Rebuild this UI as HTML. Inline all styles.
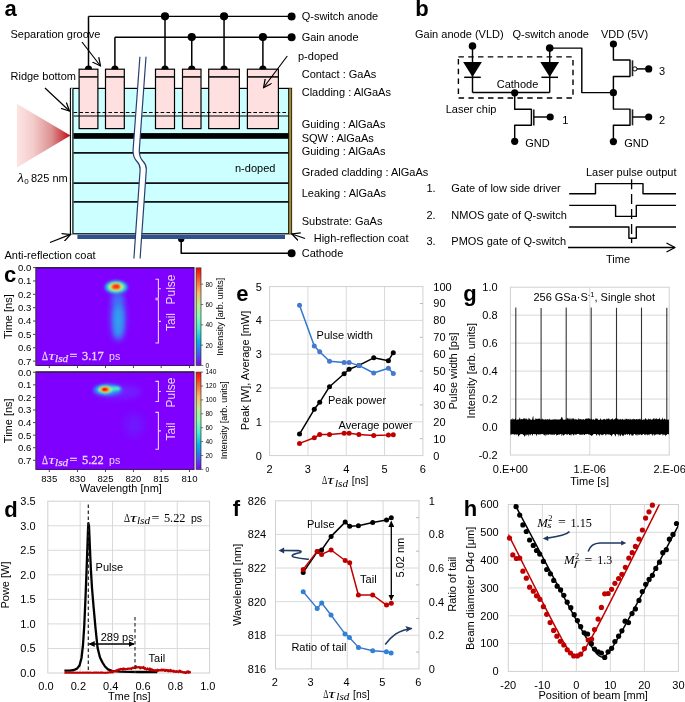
<!DOCTYPE html>
<html><head><meta charset="utf-8"><style>
html,body{margin:0;padding:0;background:#fff;}
body{width:685px;height:702px;overflow:hidden;}
svg{display:block;will-change:transform;}
</style></head><body>
<svg width="685" height="702" viewBox="0 0 685 702">
<rect width="685" height="702" fill="#fff"/>
<defs>
<linearGradient id="beam" x1="0" x2="1" y1="0" y2="0">
 <stop offset="0" stop-color="#fde4e4"/>
 <stop offset="0.3" stop-color="#f4cccc"/>
 <stop offset="0.65" stop-color="#dc9090"/>
 <stop offset="1" stop-color="#c00a14"/>
</linearGradient>
<linearGradient id="cbar" x1="0" x2="0" y1="1" y2="0">
 <stop offset="0" stop-color="#8000ff"/>
 <stop offset="0.125" stop-color="#3f5efb"/>
 <stop offset="0.25" stop-color="#00b4eb"/>
 <stop offset="0.375" stop-color="#40eccf"/>
 <stop offset="0.5" stop-color="#80ffb4"/>
 <stop offset="0.625" stop-color="#c0eb8d"/>
 <stop offset="0.75" stop-color="#ffb462"/>
 <stop offset="0.875" stop-color="#ff5e31"/>
 <stop offset="1" stop-color="#ff0000"/>
</linearGradient>
<filter id="b1" x="-50%" y="-50%" width="200%" height="200%"><feGaussianBlur stdDeviation="1.6"/></filter>
<filter id="b2" x="-50%" y="-50%" width="200%" height="200%"><feGaussianBlur stdDeviation="3"/></filter>
<filter id="b3" x="-50%" y="-50%" width="200%" height="200%"><feGaussianBlur stdDeviation="1"/></filter>
<filter id="b5" x="-50%" y="-50%" width="200%" height="200%"><feGaussianBlur stdDeviation="5"/></filter>
<marker id="ah" viewBox="0 0 10 10" refX="9" refY="5" markerWidth="6" markerHeight="6" orient="auto-start-reverse" markerUnits="userSpaceOnUse"><path d="M0,0 L10,5 L0,10 z" fill="#000"/></marker>
<marker id="ahn" viewBox="0 0 10 10" refX="9" refY="5" markerWidth="7" markerHeight="7" orient="auto-start-reverse" markerUnits="userSpaceOnUse"><path d="M0,0.5 L10,5 L0,9.5 L2.5,5 z" fill="#1f3864"/></marker>
<marker id="ao" viewBox="0 0 10 10" refX="9" refY="5" markerWidth="9" markerHeight="9" orient="auto" markerUnits="userSpaceOnUse"><path d="M0,0.5 L9,5 L0,9.5" fill="none" stroke="#000" stroke-width="1.4"/></marker>
</defs>
<text x="4.5" y="16.3" font-family="Liberation Sans" font-size="22" font-weight="bold" fill="#000">a</text>
<polygon points="16.9,103.8 16.9,167.4 70.5,135.5" fill="url(#beam)"/>
<rect x="71" y="88.4" width="220.5" height="145.4" fill="#ccffff" stroke="#000" stroke-width="1.2"/>
<rect x="288.8" y="88.4" width="2.6" height="145.4" fill="#a38a3a" stroke="none"/>
<line x1="288.60" y1="88.40" x2="288.60" y2="233.80" stroke="#000" stroke-width="0.9" />
<rect x="70.4" y="88.4" width="2.6" height="145.4" fill="#fff"/>
<line x1="70.40" y1="88.00" x2="70.40" y2="234.20" stroke="#000" stroke-width="1.1" />
<line x1="72.90" y1="88.40" x2="72.90" y2="233.80" stroke="#1a2a2a" stroke-width="1.4" />
<rect x="73.5" y="133.1" width="215.1" height="5.7" fill="#000"/>
<line x1="73.50" y1="152.90" x2="288.60" y2="152.90" stroke="#111" stroke-width="1.6" />
<line x1="73.50" y1="183.10" x2="288.60" y2="183.10" stroke="#111" stroke-width="1.6" />
<line x1="73.50" y1="201.90" x2="288.60" y2="201.90" stroke="#111" stroke-width="1.6" />
<rect x="77.4" y="234.8" width="207.6" height="4.2" fill="#2f528f"/>
<rect x="79.1" y="69.2" width="18.80" height="59.4" fill="#ffe0e0" stroke="#000" stroke-width="1.2"/>
<line x1="79.10" y1="76.90" x2="97.90" y2="76.90" stroke="#1a1a1a" stroke-width="1.7" />
<rect x="105.5" y="69.2" width="18.80" height="59.4" fill="#ffe0e0" stroke="#000" stroke-width="1.2"/>
<line x1="105.50" y1="76.90" x2="124.30" y2="76.90" stroke="#1a1a1a" stroke-width="1.7" />
<rect x="155.5" y="69.2" width="19.00" height="59.4" fill="#ffe0e0" stroke="#000" stroke-width="1.2"/>
<line x1="155.50" y1="76.90" x2="174.50" y2="76.90" stroke="#1a1a1a" stroke-width="1.7" />
<rect x="182.5" y="69.2" width="18.50" height="59.4" fill="#ffe0e0" stroke="#000" stroke-width="1.2"/>
<line x1="182.50" y1="76.90" x2="201.00" y2="76.90" stroke="#1a1a1a" stroke-width="1.7" />
<rect x="208.7" y="69.2" width="30.70" height="59.4" fill="#ffe0e0" stroke="#000" stroke-width="1.2"/>
<line x1="208.70" y1="76.90" x2="239.40" y2="76.90" stroke="#1a1a1a" stroke-width="1.7" />
<rect x="247.4" y="69.2" width="31.00" height="59.4" fill="#ffe0e0" stroke="#000" stroke-width="1.2"/>
<line x1="247.40" y1="76.90" x2="278.40" y2="76.90" stroke="#1a1a1a" stroke-width="1.7" />
<line x1="73.60" y1="112.50" x2="288.60" y2="112.50" stroke="#000" stroke-width="1.1" stroke-dasharray="3.6,2.2"/>
<line x1="73.60" y1="116.00" x2="288.60" y2="116.00" stroke="#000" stroke-width="1.1" />
<line x1="88.50" y1="16.40" x2="291.50" y2="16.40" stroke="#000" stroke-width="1.4" />
<line x1="114.90" y1="37.20" x2="291.50" y2="37.20" stroke="#000" stroke-width="1.4" />
<line x1="88.50" y1="16.40" x2="88.50" y2="69.20" stroke="#000" stroke-width="1.5" />
<line x1="165.00" y1="16.40" x2="165.00" y2="69.20" stroke="#000" stroke-width="1.5" />
<line x1="224.05" y1="16.40" x2="224.05" y2="69.20" stroke="#000" stroke-width="1.5" />
<line x1="114.90" y1="37.20" x2="114.90" y2="69.20" stroke="#000" stroke-width="1.5" />
<line x1="191.75" y1="37.20" x2="191.75" y2="69.20" stroke="#000" stroke-width="1.5" />
<line x1="262.90" y1="37.20" x2="262.90" y2="69.20" stroke="#000" stroke-width="1.5" />
<circle cx="165.00" cy="16.30" r="4.1" fill="#000"/>
<circle cx="224.05" cy="16.30" r="4.1" fill="#000"/>
<circle cx="191.75" cy="37.10" r="4.1" fill="#000"/>
<circle cx="262.90" cy="37.10" r="4.1" fill="#000"/>
<circle cx="291.60" cy="16.50" r="4.0" fill="#000"/>
<circle cx="291.60" cy="37.20" r="4.0" fill="#000"/>
<path d="M84.90,69.2 A3.6,3.6 0 0 1 92.10,69.2 z" fill="#000"/>
<path d="M111.30,69.2 A3.6,3.6 0 0 1 118.50,69.2 z" fill="#000"/>
<path d="M161.40,69.2 A3.6,3.6 0 0 1 168.60,69.2 z" fill="#000"/>
<path d="M188.15,69.2 A3.6,3.6 0 0 1 195.35,69.2 z" fill="#000"/>
<path d="M220.45,69.2 A3.6,3.6 0 0 1 227.65,69.2 z" fill="#000"/>
<path d="M259.30,69.2 A3.6,3.6 0 0 1 266.50,69.2 z" fill="#000"/>
<path d="M178,239 A3.2,3.2 0 0 0 184.4,239 z" fill="#000"/>
<polyline points="181.20,239.00 181.20,253.20 291.50,253.20" fill="none" stroke="#000" stroke-width="1.5" stroke-linejoin="round" />
<circle cx="291.60" cy="253.20" r="4.0" fill="#000"/>
<path d="M139.9,56.8 L133.1,150 C132.8,156 134.5,159 137,161.5 C139.5,164 140.3,166 140.1,170 L133.9,258.5 L140.1,258.5 L146.3,170 C146.5,166 145.7,164 143.2,161.5 C140.7,159 139.0,156 139.3,150 L146.0,56.8 z" fill="#fff"/>
<path d="M139.9,56.8 L133.1,150 C132.8,156 134.5,159 137,161.5 C139.5,164 140.3,166 140.1,170 L133.9,258.5" fill="none" stroke="#2b3f6e" stroke-width="1.2"/>
<path d="M146.0,56.8 L139.3,150 C139.0,156 140.7,159 143.2,161.5 C145.7,164 146.5,166 146.3,170 L140.1,258.5" fill="none" stroke="#2b3f6e" stroke-width="1.2"/>
<line x1="82.00" y1="42.00" x2="100.50" y2="66.00" stroke="#000" stroke-width="1.2" marker-end="url(#ao)"/>
<line x1="45.00" y1="88.00" x2="69.50" y2="111.00" stroke="#000" stroke-width="1.2" marker-end="url(#ao)"/>
<line x1="287.30" y1="56.00" x2="263.60" y2="87.50" stroke="#000" stroke-width="1.2" marker-end="url(#ao)"/>
<line x1="50.00" y1="242.50" x2="70.50" y2="234.40" stroke="#000" stroke-width="1.2" marker-end="url(#ao)"/>
<line x1="305.00" y1="238.50" x2="291.80" y2="234.00" stroke="#000" stroke-width="1.2" marker-end="url(#ao)"/>
<text x="10.50" y="38.11" font-family="Liberation Sans" font-size="11" text-anchor="start" fill="#000" font-weight="normal" font-style="normal" >Separation groove</text>
<text x="10.50" y="79.91" font-family="Liberation Sans" font-size="11" text-anchor="start" fill="#000" font-weight="normal" font-style="normal" >Ridge bottom</text>
<text x="301.70" y="20.41" font-family="Liberation Sans" font-size="11" text-anchor="start" fill="#000" font-weight="normal" font-style="normal" >Q-switch anode</text>
<text x="301.70" y="41.41" font-family="Liberation Sans" font-size="11" text-anchor="start" fill="#000" font-weight="normal" font-style="normal" >Gain anode</text>
<text x="298.00" y="59.91" font-family="Liberation Sans" font-size="11" text-anchor="start" fill="#000" font-weight="normal" font-style="normal" >p-doped</text>
<text x="301.70" y="77.91" font-family="Liberation Sans" font-size="11" text-anchor="start" fill="#000" font-weight="normal" font-style="normal" >Contact : GaAs</text>
<text x="301.70" y="96.41" font-family="Liberation Sans" font-size="11" text-anchor="start" fill="#000" font-weight="normal" font-style="normal" >Cladding : AlGaAs</text>
<text x="301.70" y="127.91" font-family="Liberation Sans" font-size="11" text-anchor="start" fill="#000" font-weight="normal" font-style="normal" >Guiding : AlGaAs</text>
<text x="301.70" y="141.91" font-family="Liberation Sans" font-size="11" text-anchor="start" fill="#000" font-weight="normal" font-style="normal" >SQW : AlGaAs</text>
<text x="301.70" y="154.91" font-family="Liberation Sans" font-size="11" text-anchor="start" fill="#000" font-weight="normal" font-style="normal" >Guiding : AlGaAs</text>
<text x="301.70" y="176.41" font-family="Liberation Sans" font-size="11" text-anchor="start" fill="#000" font-weight="normal" font-style="normal" >Graded cladding : AlGaAs</text>
<text x="301.70" y="196.91" font-family="Liberation Sans" font-size="11" text-anchor="start" fill="#000" font-weight="normal" font-style="normal" >Leaking : AlGaAs</text>
<text x="301.70" y="224.91" font-family="Liberation Sans" font-size="11" text-anchor="start" fill="#000" font-weight="normal" font-style="normal" >Substrate: GaAs</text>
<text x="313.70" y="241.91" font-family="Liberation Sans" font-size="11" text-anchor="start" fill="#000" font-weight="normal" font-style="normal" >High-reflection coat</text>
<text x="301.70" y="257.10" font-family="Liberation Sans" font-size="11" text-anchor="start" fill="#000" font-weight="normal" font-style="normal" >Cathode</text>
<text x="235.00" y="171.91" font-family="Liberation Sans" font-size="11" text-anchor="start" fill="#000" font-weight="normal" font-style="normal" >n-doped</text>
<text x="4.50" y="258.90" font-family="Liberation Sans" font-size="11" text-anchor="start" fill="#000" font-weight="normal" font-style="normal" >Anti-reflection coat</text>
<text x="17.6" y="181.8" font-family="Liberation Serif" font-size="12.5" font-style="italic" textLength="6.4" lengthAdjust="spacingAndGlyphs">λ</text>
<text x="24.2" y="184.4" font-family="Liberation Sans" font-size="8">0</text>
<text x="31.0" y="182.0" font-family="Liberation Sans" font-size="11">825 nm</text>
<text x="415.3" y="15.9" font-family="Liberation Sans" font-size="22" font-weight="bold" fill="#000">b</text>
<text x="415.00" y="37.91" font-family="Liberation Sans" font-size="11" text-anchor="start" fill="#000" font-weight="normal" font-style="normal" >Gain anode (VLD)</text>
<text x="512.50" y="38.20" font-family="Liberation Sans" font-size="11" text-anchor="start" fill="#000" font-weight="normal" font-style="normal" >Q-switch anode</text>
<text x="601.00" y="38.20" font-family="Liberation Sans" font-size="11" text-anchor="start" fill="#000" font-weight="normal" font-style="normal" >VDD (5V)</text>
<rect x="458.4" y="56.9" width="114.6" height="41.1" fill="none" stroke="#000" stroke-width="1.4" stroke-dasharray="5.5,4.3"/>
<line x1="472.50" y1="46.00" x2="472.50" y2="92.50" stroke="#000" stroke-width="1.45" />
<polygon points="463.1,62.0 481.9,62.0 472.5,77.0" fill="#000"/>
<line x1="464.20" y1="77.30" x2="480.80" y2="77.30" stroke="#000" stroke-width="1.5" />
<line x1="549.70" y1="48.10" x2="549.70" y2="92.50" stroke="#000" stroke-width="1.45" />
<polygon points="540.3,62.0 559.1,62.0 549.7,77.0" fill="#000"/>
<line x1="541.40" y1="77.30" x2="558.00" y2="77.30" stroke="#000" stroke-width="1.5" />
<circle cx="472.50" cy="46.00" r="3.8" fill="#000"/>
<circle cx="549.70" cy="48.10" r="3.8" fill="#000"/>
<line x1="472.50" y1="92.50" x2="549.70" y2="92.50" stroke="#000" stroke-width="1.45" />
<text x="496.70" y="87.61" font-family="Liberation Sans" font-size="11" text-anchor="start" fill="#000" font-weight="normal" font-style="normal" >Cathode</text>
<text x="445.70" y="112.91" font-family="Liberation Sans" font-size="11" text-anchor="start" fill="#000" font-weight="normal" font-style="normal" >Laser chip</text>
<circle cx="514.70" cy="92.80" r="3.6" fill="#000"/>
<polyline points="549.70,48.10 581.80,48.10 581.80,92.60 613.40,92.60" fill="none" stroke="#000" stroke-width="1.45" stroke-linejoin="round" />
<polyline points="514.70,92.80 514.70,109.20 531.40,109.20 531.40,125.30 514.70,125.30 514.70,141.30" fill="none" stroke="#000" stroke-width="1.45" stroke-linejoin="round" />
<line x1="533.80" y1="109.40" x2="533.80" y2="125.60" stroke="#222" stroke-width="1.6" />
<line x1="533.80" y1="117.00" x2="550.00" y2="117.00" stroke="#000" stroke-width="1.45" />
<circle cx="550.20" cy="117.00" r="3.6" fill="#000"/>
<text x="562.30" y="123.61" font-family="Liberation Sans" font-size="11" text-anchor="start" fill="#000" font-weight="normal" font-style="normal" >1</text>
<circle cx="514.70" cy="141.30" r="3.6" fill="#000"/>
<text x="525.30" y="146.91" font-family="Liberation Sans" font-size="11" text-anchor="start" fill="#000" font-weight="normal" font-style="normal" >GND</text>
<polyline points="613.40,44.00 613.40,59.90 630.00,59.90 630.00,76.50 613.40,76.50 613.40,109.10 630.00,109.10 630.00,125.20 613.40,125.20 613.40,141.60" fill="none" stroke="#000" stroke-width="1.45" stroke-linejoin="round" />
<line x1="632.50" y1="60.30" x2="632.50" y2="76.20" stroke="#222" stroke-width="1.6" />
<line x1="632.50" y1="109.40" x2="632.50" y2="125.30" stroke="#222" stroke-width="1.6" />
<circle cx="634.9" cy="68.9" r="2.1" fill="#fff" stroke="#000" stroke-width="1.0"/>
<line x1="637.00" y1="68.90" x2="648.70" y2="68.90" stroke="#000" stroke-width="1.45" />
<line x1="632.50" y1="117.00" x2="648.70" y2="117.00" stroke="#000" stroke-width="1.45" />
<circle cx="613.40" cy="44.00" r="3.6" fill="#000"/>
<circle cx="613.40" cy="92.70" r="3.6" fill="#000"/>
<circle cx="613.40" cy="141.60" r="3.6" fill="#000"/>
<circle cx="648.70" cy="68.90" r="3.6" fill="#000"/>
<circle cx="648.70" cy="117.00" r="3.6" fill="#000"/>
<text x="659.00" y="74.61" font-family="Liberation Sans" font-size="11" text-anchor="start" fill="#000" font-weight="normal" font-style="normal" >3</text>
<text x="659.00" y="123.81" font-family="Liberation Sans" font-size="11" text-anchor="start" fill="#000" font-weight="normal" font-style="normal" >2</text>
<text x="624.30" y="146.81" font-family="Liberation Sans" font-size="11" text-anchor="start" fill="#000" font-weight="normal" font-style="normal" >GND</text>
<text x="426.50" y="192.41" font-family="Liberation Sans" font-size="11" text-anchor="start" fill="#000" font-weight="normal" font-style="normal" >1.</text>
<text x="426.50" y="218.50" font-family="Liberation Sans" font-size="11" text-anchor="start" fill="#000" font-weight="normal" font-style="normal" >2.</text>
<text x="426.50" y="244.91" font-family="Liberation Sans" font-size="11" text-anchor="start" fill="#000" font-weight="normal" font-style="normal" >3.</text>
<text x="451.30" y="192.41" font-family="Liberation Sans" font-size="11" text-anchor="start" fill="#000" font-weight="normal" font-style="normal" >Gate of low side driver</text>
<text x="451.30" y="218.50" font-family="Liberation Sans" font-size="11" text-anchor="start" fill="#000" font-weight="normal" font-style="normal" >NMOS gate of Q-switch</text>
<text x="451.30" y="244.91" font-family="Liberation Sans" font-size="11" text-anchor="start" fill="#000" font-weight="normal" font-style="normal" >PMOS gate of Q-switch</text>
<text x="586.00" y="175.91" font-family="Liberation Sans" font-size="11" text-anchor="start" fill="#000" font-weight="normal" font-style="normal" >Laser pulse output</text>
<polyline points="569.20,193.70 595.50,193.70 595.50,183.60 643.00,183.60 643.00,193.70 676.00,193.70" fill="none" stroke="#000" stroke-width="1.4" stroke-linejoin="round" />
<polyline points="569.20,205.40 615.60,205.40 615.60,216.40 636.30,216.40 636.30,205.40 676.00,205.40" fill="none" stroke="#000" stroke-width="1.4" stroke-linejoin="round" />
<polyline points="569.20,227.00 628.90,227.00 628.90,238.20 636.30,238.20 636.30,227.00 676.00,227.00" fill="none" stroke="#000" stroke-width="1.4" stroke-linejoin="round" />
<line x1="631.60" y1="179.20" x2="631.60" y2="243.00" stroke="#000" stroke-width="1.3" stroke-dasharray="10,4.9"/>
<line x1="568.00" y1="247.50" x2="674.50" y2="247.50" stroke="#000" stroke-width="1.4" />
<polyline points="666.50,243.00 675.00,247.50 666.50,252.00" fill="none" stroke="#000" stroke-width="1.4" stroke-linejoin="round" />
<text x="606.00" y="262.90" font-family="Liberation Sans" font-size="11" text-anchor="start" fill="#000" font-weight="normal" font-style="normal" >Time</text>
<text x="4.0" y="281.6" font-family="Liberation Sans" font-size="22" font-weight="bold" fill="#000">c</text>
<rect x="35.9" y="267.9" width="158.3" height="97.60" fill="#7f00ff"/>
<ellipse cx="118.2" cy="318" rx="6.6" ry="22.5" fill="#3090f0" filter="url(#b2)"/>
<ellipse cx="118.6" cy="322" rx="3.6" ry="15" fill="#30a8f0" filter="url(#b2)" opacity="0.85"/>
<ellipse cx="117.5" cy="298" rx="6" ry="6" fill="#4070f8" filter="url(#b2)" opacity="0.9"/>
<ellipse cx="116.3" cy="287.2" rx="11.5" ry="6.6" fill="#1aa8f0" filter="url(#b1)"/>
<ellipse cx="116.1" cy="287.0" rx="8.6" ry="4.9" fill="#80f8a8" filter="url(#b1)"/>
<ellipse cx="115.9" cy="286.9" rx="6.4" ry="3.5" fill="#e0f068" filter="url(#b3)"/>
<ellipse cx="115.9" cy="286.8" rx="4.4" ry="2.5" fill="#ff4a1a" filter="url(#b3)"/>
<ellipse cx="116.6" cy="286.4" rx="2.2" ry="1.4" fill="#ff2000" filter="url(#b3)"/>
<rect x="35.9" y="267.90" width="158.3" height="97.60" fill="none" stroke="#2a0a55" stroke-width="0.9"/>
<line x1="35.50" y1="267.60" x2="194.30" y2="267.60" stroke="#222" stroke-width="1.0" />
<line x1="35.70" y1="267.90" x2="35.70" y2="365.50" stroke="#666" stroke-width="0.9" />
<rect x="194.6" y="267.50" width="1.2" height="98.00" fill="#d8d8d8"/>
<rect x="196.2" y="267.90" width="4.8" height="97.60" fill="url(#cbar)" stroke="#333" stroke-width="0.7"/>
<line x1="200.80" y1="365.50" x2="203.20" y2="365.50" stroke="#444" stroke-width="0.7" />
<text x="205.40" y="367.84" font-family="Liberation Sans" font-size="6.6" text-anchor="start" fill="#000" font-weight="normal" font-style="normal" >0</text>
<line x1="200.80" y1="345.17" x2="203.20" y2="345.17" stroke="#444" stroke-width="0.7" />
<text x="205.40" y="347.51" font-family="Liberation Sans" font-size="6.6" text-anchor="start" fill="#000" font-weight="normal" font-style="normal" >20</text>
<line x1="200.80" y1="324.83" x2="203.20" y2="324.83" stroke="#444" stroke-width="0.7" />
<text x="205.40" y="327.18" font-family="Liberation Sans" font-size="6.6" text-anchor="start" fill="#000" font-weight="normal" font-style="normal" >40</text>
<line x1="200.80" y1="304.50" x2="203.20" y2="304.50" stroke="#444" stroke-width="0.7" />
<text x="205.40" y="306.84" font-family="Liberation Sans" font-size="6.6" text-anchor="start" fill="#000" font-weight="normal" font-style="normal" >60</text>
<line x1="200.80" y1="284.17" x2="203.20" y2="284.17" stroke="#444" stroke-width="0.7" />
<text x="205.40" y="286.51" font-family="Liberation Sans" font-size="6.6" text-anchor="start" fill="#000" font-weight="normal" font-style="normal" >80</text>
<line x1="33.00" y1="267.60" x2="35.70" y2="267.60" stroke="#333" stroke-width="0.9" />
<text x="31.30" y="271.01" font-family="Liberation Sans" font-size="9.6" text-anchor="end" fill="#000" font-weight="normal" font-style="normal" >0.0</text>
<line x1="33.00" y1="280.96" x2="35.70" y2="280.96" stroke="#333" stroke-width="0.9" />
<text x="31.30" y="284.37" font-family="Liberation Sans" font-size="9.6" text-anchor="end" fill="#000" font-weight="normal" font-style="normal" >0.1</text>
<line x1="33.00" y1="294.32" x2="35.70" y2="294.32" stroke="#333" stroke-width="0.9" />
<text x="31.30" y="297.73" font-family="Liberation Sans" font-size="9.6" text-anchor="end" fill="#000" font-weight="normal" font-style="normal" >0.2</text>
<line x1="33.00" y1="307.68" x2="35.70" y2="307.68" stroke="#333" stroke-width="0.9" />
<text x="31.30" y="311.09" font-family="Liberation Sans" font-size="9.6" text-anchor="end" fill="#000" font-weight="normal" font-style="normal" >0.3</text>
<line x1="33.00" y1="321.04" x2="35.70" y2="321.04" stroke="#333" stroke-width="0.9" />
<text x="31.30" y="324.45" font-family="Liberation Sans" font-size="9.6" text-anchor="end" fill="#000" font-weight="normal" font-style="normal" >0.4</text>
<line x1="33.00" y1="334.40" x2="35.70" y2="334.40" stroke="#333" stroke-width="0.9" />
<text x="31.30" y="337.81" font-family="Liberation Sans" font-size="9.6" text-anchor="end" fill="#000" font-weight="normal" font-style="normal" >0.5</text>
<line x1="33.00" y1="347.76" x2="35.70" y2="347.76" stroke="#333" stroke-width="0.9" />
<text x="31.30" y="351.17" font-family="Liberation Sans" font-size="9.6" text-anchor="end" fill="#000" font-weight="normal" font-style="normal" >0.6</text>
<line x1="33.00" y1="361.12" x2="35.70" y2="361.12" stroke="#333" stroke-width="0.9" />
<text x="31.30" y="364.53" font-family="Liberation Sans" font-size="9.6" text-anchor="end" fill="#000" font-weight="normal" font-style="normal" >0.7</text>
<line x1="49.30" y1="365.50" x2="49.30" y2="368.10" stroke="#333" stroke-width="0.9" />
<line x1="77.50" y1="365.50" x2="77.50" y2="368.10" stroke="#333" stroke-width="0.9" />
<line x1="105.50" y1="365.50" x2="105.50" y2="368.10" stroke="#333" stroke-width="0.9" />
<line x1="133.40" y1="365.50" x2="133.40" y2="368.10" stroke="#333" stroke-width="0.9" />
<line x1="161.20" y1="365.50" x2="161.20" y2="368.10" stroke="#333" stroke-width="0.9" />
<line x1="189.50" y1="365.50" x2="189.50" y2="368.10" stroke="#333" stroke-width="0.9" />
<text transform="translate(11.61,316.70) rotate(-90)" font-family="Liberation Sans" font-size="11" text-anchor="middle" fill="#000" font-style="normal">Time [ns]</text>
<text transform="translate(223.19,316.70) rotate(-90)" font-family="Liberation Sans" font-size="9" text-anchor="middle" fill="#000" font-style="normal">Intensity [arb. units]</text>
<rect x="35.9" y="372.1" width="158.3" height="97.30" fill="#7f00ff"/>
<ellipse cx="134" cy="425" rx="10" ry="12" fill="#6a20ff" filter="url(#b5)" opacity="0.7"/>
<ellipse cx="118" cy="392" rx="24" ry="7" fill="#6a30ff" filter="url(#b2)" opacity="0.6"/>
<ellipse cx="108" cy="390" rx="15" ry="6.2" fill="#4a60ff" filter="url(#b1)" opacity="0.9"/>
<ellipse cx="107" cy="389.8" rx="12" ry="5" fill="#1e9cf0" filter="url(#b1)"/>
<ellipse cx="115.5" cy="388.6" rx="5" ry="2.2" fill="#50e8c8" filter="url(#b3)"/>
<ellipse cx="105.4" cy="389.6" rx="7.8" ry="3.8" fill="#78f4b8" filter="url(#b3)"/>
<ellipse cx="105.2" cy="389.6" rx="5.6" ry="2.8" fill="#f0d060" filter="url(#b3)"/>
<ellipse cx="105.0" cy="389.5" rx="3.6" ry="1.9" fill="#ff3a10" filter="url(#b3)"/>
<ellipse cx="104.8" cy="389.4" rx="2.0" ry="1.2" fill="#ff1000"/>
<rect x="35.9" y="372.10" width="158.3" height="97.30" fill="none" stroke="#2a0a55" stroke-width="0.9"/>
<line x1="35.50" y1="371.80" x2="194.30" y2="371.80" stroke="#222" stroke-width="1.0" />
<line x1="35.70" y1="372.10" x2="35.70" y2="469.40" stroke="#666" stroke-width="0.9" />
<rect x="194.6" y="371.70" width="1.2" height="97.70" fill="#d8d8d8"/>
<rect x="196.2" y="372.10" width="4.8" height="97.30" fill="url(#cbar)" stroke="#333" stroke-width="0.7"/>
<line x1="200.80" y1="469.40" x2="203.20" y2="469.40" stroke="#444" stroke-width="0.7" />
<text x="205.40" y="471.74" font-family="Liberation Sans" font-size="6.6" text-anchor="start" fill="#000" font-weight="normal" font-style="normal" >0</text>
<line x1="200.80" y1="455.50" x2="203.20" y2="455.50" stroke="#444" stroke-width="0.7" />
<text x="205.40" y="457.84" font-family="Liberation Sans" font-size="6.6" text-anchor="start" fill="#000" font-weight="normal" font-style="normal" >20</text>
<line x1="200.80" y1="441.60" x2="203.20" y2="441.60" stroke="#444" stroke-width="0.7" />
<text x="205.40" y="443.94" font-family="Liberation Sans" font-size="6.6" text-anchor="start" fill="#000" font-weight="normal" font-style="normal" >40</text>
<line x1="200.80" y1="427.70" x2="203.20" y2="427.70" stroke="#444" stroke-width="0.7" />
<text x="205.40" y="430.04" font-family="Liberation Sans" font-size="6.6" text-anchor="start" fill="#000" font-weight="normal" font-style="normal" >60</text>
<line x1="200.80" y1="413.80" x2="203.20" y2="413.80" stroke="#444" stroke-width="0.7" />
<text x="205.40" y="416.14" font-family="Liberation Sans" font-size="6.6" text-anchor="start" fill="#000" font-weight="normal" font-style="normal" >80</text>
<line x1="200.80" y1="399.90" x2="203.20" y2="399.90" stroke="#444" stroke-width="0.7" />
<text x="205.40" y="402.24" font-family="Liberation Sans" font-size="6.6" text-anchor="start" fill="#000" font-weight="normal" font-style="normal" >100</text>
<line x1="200.80" y1="386.00" x2="203.20" y2="386.00" stroke="#444" stroke-width="0.7" />
<text x="205.40" y="388.34" font-family="Liberation Sans" font-size="6.6" text-anchor="start" fill="#000" font-weight="normal" font-style="normal" >120</text>
<line x1="200.80" y1="372.10" x2="203.20" y2="372.10" stroke="#444" stroke-width="0.7" />
<text x="205.40" y="374.44" font-family="Liberation Sans" font-size="6.6" text-anchor="start" fill="#000" font-weight="normal" font-style="normal" >140</text>
<line x1="33.00" y1="372.30" x2="35.70" y2="372.30" stroke="#333" stroke-width="0.9" />
<text x="31.30" y="375.71" font-family="Liberation Sans" font-size="9.6" text-anchor="end" fill="#000" font-weight="normal" font-style="normal" >0.0</text>
<line x1="33.00" y1="384.87" x2="35.70" y2="384.87" stroke="#333" stroke-width="0.9" />
<text x="31.30" y="388.28" font-family="Liberation Sans" font-size="9.6" text-anchor="end" fill="#000" font-weight="normal" font-style="normal" >0.1</text>
<line x1="33.00" y1="397.44" x2="35.70" y2="397.44" stroke="#333" stroke-width="0.9" />
<text x="31.30" y="400.85" font-family="Liberation Sans" font-size="9.6" text-anchor="end" fill="#000" font-weight="normal" font-style="normal" >0.2</text>
<line x1="33.00" y1="410.01" x2="35.70" y2="410.01" stroke="#333" stroke-width="0.9" />
<text x="31.30" y="413.42" font-family="Liberation Sans" font-size="9.6" text-anchor="end" fill="#000" font-weight="normal" font-style="normal" >0.3</text>
<line x1="33.00" y1="422.58" x2="35.70" y2="422.58" stroke="#333" stroke-width="0.9" />
<text x="31.30" y="425.99" font-family="Liberation Sans" font-size="9.6" text-anchor="end" fill="#000" font-weight="normal" font-style="normal" >0.4</text>
<line x1="33.00" y1="435.15" x2="35.70" y2="435.15" stroke="#333" stroke-width="0.9" />
<text x="31.30" y="438.56" font-family="Liberation Sans" font-size="9.6" text-anchor="end" fill="#000" font-weight="normal" font-style="normal" >0.5</text>
<line x1="33.00" y1="447.72" x2="35.70" y2="447.72" stroke="#333" stroke-width="0.9" />
<text x="31.30" y="451.13" font-family="Liberation Sans" font-size="9.6" text-anchor="end" fill="#000" font-weight="normal" font-style="normal" >0.6</text>
<line x1="33.00" y1="460.29" x2="35.70" y2="460.29" stroke="#333" stroke-width="0.9" />
<text x="31.30" y="463.70" font-family="Liberation Sans" font-size="9.6" text-anchor="end" fill="#000" font-weight="normal" font-style="normal" >0.7</text>
<line x1="49.30" y1="469.40" x2="49.30" y2="472.00" stroke="#333" stroke-width="0.9" />
<line x1="77.50" y1="469.40" x2="77.50" y2="472.00" stroke="#333" stroke-width="0.9" />
<line x1="105.50" y1="469.40" x2="105.50" y2="472.00" stroke="#333" stroke-width="0.9" />
<line x1="133.40" y1="469.40" x2="133.40" y2="472.00" stroke="#333" stroke-width="0.9" />
<line x1="161.20" y1="469.40" x2="161.20" y2="472.00" stroke="#333" stroke-width="0.9" />
<line x1="189.50" y1="469.40" x2="189.50" y2="472.00" stroke="#333" stroke-width="0.9" />
<text transform="translate(11.61,420.75) rotate(-90)" font-family="Liberation Sans" font-size="11" text-anchor="middle" fill="#000" font-style="normal">Time [ns]</text>
<text transform="translate(226.59,420.25) rotate(-90)" font-family="Liberation Sans" font-size="9" text-anchor="middle" fill="#000" font-style="normal">Intensity [arb. units]</text>
<text x="49.30" y="481.71" font-family="Liberation Sans" font-size="9.6" text-anchor="middle" fill="#000" font-weight="normal" font-style="normal" >835</text>
<text x="77.50" y="481.71" font-family="Liberation Sans" font-size="9.6" text-anchor="middle" fill="#000" font-weight="normal" font-style="normal" >830</text>
<text x="105.50" y="481.71" font-family="Liberation Sans" font-size="9.6" text-anchor="middle" fill="#000" font-weight="normal" font-style="normal" >825</text>
<text x="133.40" y="481.71" font-family="Liberation Sans" font-size="9.6" text-anchor="middle" fill="#000" font-weight="normal" font-style="normal" >820</text>
<text x="161.20" y="481.71" font-family="Liberation Sans" font-size="9.6" text-anchor="middle" fill="#000" font-weight="normal" font-style="normal" >815</text>
<text x="189.50" y="481.71" font-family="Liberation Sans" font-size="9.6" text-anchor="middle" fill="#000" font-weight="normal" font-style="normal" >810</text>
<text x="120.80" y="492.20" font-family="Liberation Sans" font-size="11" text-anchor="middle" fill="#000" font-weight="normal" font-style="normal" >Wavelength [nm]</text>
<path d="M155.4,279.2 L158.4,279.2 L158.4,298.3 L155.4,298.3 M158.4,288.75 L160.9,288.75" fill="none" stroke="#e6d4ff" stroke-width="1.1"/>
<path d="M155.4,299.8 L158.4,299.8 L158.4,343.0 L155.4,343.0 M158.4,321.4 L160.9,321.4" fill="none" stroke="#e6d4ff" stroke-width="1.1"/>
<path d="M155.4,381.4 L158.4,381.4 L158.4,401.5 L155.4,401.5 M158.4,391.45 L160.9,391.45" fill="none" stroke="#e6d4ff" stroke-width="1.1"/>
<path d="M155.4,412.4 L158.4,412.4 L158.4,449.3 L155.4,449.3 M158.4,430.85 L160.9,430.85" fill="none" stroke="#e6d4ff" stroke-width="1.1"/>
<text transform="translate(174.56,289.50) rotate(-90)" font-family="Liberation Sans" font-size="12" text-anchor="middle" fill="#e6d4ff" font-style="normal">Pulse</text>
<text transform="translate(174.56,322.00) rotate(-90)" font-family="Liberation Sans" font-size="12" text-anchor="middle" fill="#e6d4ff" font-style="normal">Tail</text>
<text transform="translate(174.56,392.50) rotate(-90)" font-family="Liberation Sans" font-size="12" text-anchor="middle" fill="#e6d4ff" font-style="normal">Pulse</text>
<text transform="translate(174.56,431.50) rotate(-90)" font-family="Liberation Sans" font-size="12" text-anchor="middle" fill="#e6d4ff" font-style="normal">Tail</text>
<text x="42.00" y="360.10" font-family="Liberation Serif" font-size="13" font-style="normal" fill="#e6d4ff" font-weight="normal" textLength="6.00" lengthAdjust="spacingAndGlyphs" stroke="#e6d4ff" stroke-width="0.3">Δ</text>
<text x="48.20" y="360.10" font-family="Liberation Serif" font-size="13.5" font-style="italic" fill="#e6d4ff" font-weight="normal" textLength="6.90" lengthAdjust="spacingAndGlyphs">τ</text>
<text x="55.10" y="361.80" font-family="Liberation Serif" font-size="10.5" font-style="italic" fill="#e6d4ff" font-weight="normal" textLength="13.10" lengthAdjust="spacingAndGlyphs" stroke="#e6d4ff" stroke-width="0.25">lsd</text>
<text x="69.50" y="360.10" font-family="Liberation Serif" font-size="13" font-style="normal" fill="#e6d4ff" font-weight="normal" textLength="7.90" lengthAdjust="spacingAndGlyphs" stroke="#e6d4ff" stroke-width="0.3">=</text>
<text x="82.00" y="360.10" font-family="Liberation Serif" font-size="13" font-style="normal" fill="#e6d4ff" font-weight="normal" textLength="21.60" lengthAdjust="spacingAndGlyphs" stroke="#e6d4ff" stroke-width="0.35">3.17</text>
<text x="109.00" y="360.10" font-family="Liberation Sans" font-size="11" font-style="normal" fill="#e6d4ff" font-weight="normal" textLength="11.20" lengthAdjust="spacingAndGlyphs">ps</text>
<text x="42.00" y="464.10" font-family="Liberation Serif" font-size="13" font-style="normal" fill="#e6d4ff" font-weight="normal" textLength="6.00" lengthAdjust="spacingAndGlyphs" stroke="#e6d4ff" stroke-width="0.3">Δ</text>
<text x="48.20" y="464.10" font-family="Liberation Serif" font-size="13.5" font-style="italic" fill="#e6d4ff" font-weight="normal" textLength="6.90" lengthAdjust="spacingAndGlyphs">τ</text>
<text x="55.10" y="465.80" font-family="Liberation Serif" font-size="10.5" font-style="italic" fill="#e6d4ff" font-weight="normal" textLength="13.10" lengthAdjust="spacingAndGlyphs" stroke="#e6d4ff" stroke-width="0.25">lsd</text>
<text x="69.50" y="464.10" font-family="Liberation Serif" font-size="13" font-style="normal" fill="#e6d4ff" font-weight="normal" textLength="7.90" lengthAdjust="spacingAndGlyphs" stroke="#e6d4ff" stroke-width="0.3">=</text>
<text x="82.00" y="464.10" font-family="Liberation Serif" font-size="13" font-style="normal" fill="#e6d4ff" font-weight="normal" textLength="21.60" lengthAdjust="spacingAndGlyphs" stroke="#e6d4ff" stroke-width="0.35">5.22</text>
<text x="109.00" y="464.10" font-family="Liberation Sans" font-size="11" font-style="normal" fill="#e6d4ff" font-weight="normal" textLength="11.20" lengthAdjust="spacingAndGlyphs">ps</text>
<text x="236.3" y="301.0" font-family="Liberation Sans" font-size="22" font-weight="bold" fill="#000">e</text>
<line x1="307.93" y1="286.60" x2="307.93" y2="455.60" stroke="#d9d9d9" stroke-width="1.0" />
<line x1="346.25" y1="286.60" x2="346.25" y2="455.60" stroke="#d9d9d9" stroke-width="1.0" />
<line x1="384.57" y1="286.60" x2="384.57" y2="455.60" stroke="#d9d9d9" stroke-width="1.0" />
<line x1="269.60" y1="421.80" x2="422.90" y2="421.80" stroke="#d9d9d9" stroke-width="1.0" />
<line x1="269.60" y1="388.00" x2="422.90" y2="388.00" stroke="#d9d9d9" stroke-width="1.0" />
<line x1="269.60" y1="354.20" x2="422.90" y2="354.20" stroke="#d9d9d9" stroke-width="1.0" />
<line x1="269.60" y1="320.40" x2="422.90" y2="320.40" stroke="#d9d9d9" stroke-width="1.0" />
<rect x="269.6" y="286.6" width="153.30" height="169.00" fill="none" stroke="#d0d0d0" stroke-width="1.0"/>
<line x1="419.90" y1="438.70" x2="422.90" y2="438.70" stroke="#bbb" stroke-width="1.0" />
<line x1="419.90" y1="404.90" x2="422.90" y2="404.90" stroke="#bbb" stroke-width="1.0" />
<line x1="419.90" y1="371.10" x2="422.90" y2="371.10" stroke="#bbb" stroke-width="1.0" />
<line x1="419.90" y1="337.30" x2="422.90" y2="337.30" stroke="#bbb" stroke-width="1.0" />
<line x1="419.90" y1="303.50" x2="422.90" y2="303.50" stroke="#bbb" stroke-width="1.0" />
<text x="261.80" y="459.50" font-family="Liberation Sans" font-size="11" text-anchor="end" fill="#000" font-weight="normal" font-style="normal" >0</text>
<text x="261.80" y="425.70" font-family="Liberation Sans" font-size="11" text-anchor="end" fill="#000" font-weight="normal" font-style="normal" >1</text>
<text x="261.80" y="391.90" font-family="Liberation Sans" font-size="11" text-anchor="end" fill="#000" font-weight="normal" font-style="normal" >2</text>
<text x="261.80" y="358.11" font-family="Liberation Sans" font-size="11" text-anchor="end" fill="#000" font-weight="normal" font-style="normal" >3</text>
<text x="261.80" y="324.31" font-family="Liberation Sans" font-size="11" text-anchor="end" fill="#000" font-weight="normal" font-style="normal" >4</text>
<text x="261.80" y="290.50" font-family="Liberation Sans" font-size="11" text-anchor="end" fill="#000" font-weight="normal" font-style="normal" >5</text>
<text x="433.30" y="459.50" font-family="Liberation Sans" font-size="11" text-anchor="start" fill="#000" font-weight="normal" font-style="normal" >0</text>
<text x="433.30" y="442.61" font-family="Liberation Sans" font-size="11" text-anchor="start" fill="#000" font-weight="normal" font-style="normal" >10</text>
<text x="433.30" y="425.70" font-family="Liberation Sans" font-size="11" text-anchor="start" fill="#000" font-weight="normal" font-style="normal" >20</text>
<text x="433.30" y="408.81" font-family="Liberation Sans" font-size="11" text-anchor="start" fill="#000" font-weight="normal" font-style="normal" >30</text>
<text x="433.30" y="391.90" font-family="Liberation Sans" font-size="11" text-anchor="start" fill="#000" font-weight="normal" font-style="normal" >40</text>
<text x="433.30" y="375.00" font-family="Liberation Sans" font-size="11" text-anchor="start" fill="#000" font-weight="normal" font-style="normal" >50</text>
<text x="433.30" y="358.11" font-family="Liberation Sans" font-size="11" text-anchor="start" fill="#000" font-weight="normal" font-style="normal" >60</text>
<text x="433.30" y="341.20" font-family="Liberation Sans" font-size="11" text-anchor="start" fill="#000" font-weight="normal" font-style="normal" >70</text>
<text x="433.30" y="324.31" font-family="Liberation Sans" font-size="11" text-anchor="start" fill="#000" font-weight="normal" font-style="normal" >80</text>
<text x="433.30" y="307.40" font-family="Liberation Sans" font-size="11" text-anchor="start" fill="#000" font-weight="normal" font-style="normal" >90</text>
<text x="433.30" y="290.50" font-family="Liberation Sans" font-size="11" text-anchor="start" fill="#000" font-weight="normal" font-style="normal" >100</text>
<text x="269.60" y="472.70" font-family="Liberation Sans" font-size="11" text-anchor="middle" fill="#000" font-weight="normal" font-style="normal" >2</text>
<text x="307.93" y="472.70" font-family="Liberation Sans" font-size="11" text-anchor="middle" fill="#000" font-weight="normal" font-style="normal" >3</text>
<text x="346.25" y="472.70" font-family="Liberation Sans" font-size="11" text-anchor="middle" fill="#000" font-weight="normal" font-style="normal" >4</text>
<text x="384.57" y="472.70" font-family="Liberation Sans" font-size="11" text-anchor="middle" fill="#000" font-weight="normal" font-style="normal" >5</text>
<text x="422.90" y="472.70" font-family="Liberation Sans" font-size="11" text-anchor="middle" fill="#000" font-weight="normal" font-style="normal" >6</text>
<text transform="translate(248.60,370.50) rotate(-90)" font-family="Liberation Sans" font-size="11" text-anchor="middle" fill="#000" font-style="normal">Peak [W], Average [mW]</text>
<text transform="translate(456.50,371.00) rotate(-90)" font-family="Liberation Sans" font-size="11" text-anchor="middle" fill="#000" font-style="normal">Pulse width [ps]</text>
<polyline points="299.50,434.10 314.30,409.30 319.70,402.30 329.50,386.70 344.10,373.80 349.10,369.20 358.90,365.40 373.70,357.80 388.40,360.70 393.30,352.70" fill="none" stroke="#000" stroke-width="1.5" stroke-linejoin="round" />
<circle cx="299.50" cy="434.10" r="2.5" fill="#000"/>
<circle cx="314.30" cy="409.30" r="2.5" fill="#000"/>
<circle cx="319.70" cy="402.30" r="2.5" fill="#000"/>
<circle cx="329.50" cy="386.70" r="2.5" fill="#000"/>
<circle cx="344.10" cy="373.80" r="2.5" fill="#000"/>
<circle cx="349.10" cy="369.20" r="2.5" fill="#000"/>
<circle cx="358.90" cy="365.40" r="2.5" fill="#000"/>
<circle cx="373.70" cy="357.80" r="2.5" fill="#000"/>
<circle cx="388.40" cy="360.70" r="2.5" fill="#000"/>
<circle cx="393.30" cy="352.70" r="2.5" fill="#000"/>
<polyline points="299.50,443.40 314.30,437.80 319.70,434.50 329.50,434.50 344.10,433.20 349.10,433.20 358.90,434.50 373.70,435.50 388.40,435.10 393.30,434.70" fill="none" stroke="#c00000" stroke-width="1.5" stroke-linejoin="round" />
<circle cx="299.50" cy="443.40" r="2.5" fill="#c00000"/>
<circle cx="314.30" cy="437.80" r="2.5" fill="#c00000"/>
<circle cx="319.70" cy="434.50" r="2.5" fill="#c00000"/>
<circle cx="329.50" cy="434.50" r="2.5" fill="#c00000"/>
<circle cx="344.10" cy="433.20" r="2.5" fill="#c00000"/>
<circle cx="349.10" cy="433.20" r="2.5" fill="#c00000"/>
<circle cx="358.90" cy="434.50" r="2.5" fill="#c00000"/>
<circle cx="373.70" cy="435.50" r="2.5" fill="#c00000"/>
<circle cx="388.40" cy="435.10" r="2.5" fill="#c00000"/>
<circle cx="393.30" cy="434.70" r="2.5" fill="#c00000"/>
<polyline points="299.50,305.20 314.30,346.00 319.70,351.70 329.50,361.20 344.10,362.60 349.10,362.60 358.90,365.40 373.70,373.00 388.40,368.30 393.30,373.60" fill="none" stroke="#2f78d0" stroke-width="1.5" stroke-linejoin="round" />
<circle cx="299.50" cy="305.20" r="2.5" fill="#4778d0"/>
<circle cx="314.30" cy="346.00" r="2.5" fill="#4778d0"/>
<circle cx="319.70" cy="351.70" r="2.5" fill="#4778d0"/>
<circle cx="329.50" cy="361.20" r="2.5" fill="#4778d0"/>
<circle cx="344.10" cy="362.60" r="2.5" fill="#4778d0"/>
<circle cx="349.10" cy="362.60" r="2.5" fill="#4778d0"/>
<circle cx="358.90" cy="365.40" r="2.5" fill="#4778d0"/>
<circle cx="373.70" cy="373.00" r="2.5" fill="#4778d0"/>
<circle cx="388.40" cy="368.30" r="2.5" fill="#4778d0"/>
<circle cx="393.30" cy="373.60" r="2.5" fill="#4778d0"/>
<text x="316.60" y="338.90" font-family="Liberation Sans" font-size="11" text-anchor="start" fill="#000" font-weight="normal" font-style="normal" >Pulse width</text>
<text x="328.00" y="403.70" font-family="Liberation Sans" font-size="11" text-anchor="start" fill="#000" font-weight="normal" font-style="normal" >Peak power</text>
<text x="338.60" y="428.90" font-family="Liberation Sans" font-size="11" text-anchor="start" fill="#000" font-weight="normal" font-style="normal" >Average power</text>
<text x="322.00" y="484.00" font-family="Liberation Serif" font-size="12.5" font-style="normal" fill="#000" font-weight="normal" textLength="5.20" lengthAdjust="spacingAndGlyphs">Δ</text>
<text x="327.30" y="484.00" font-family="Liberation Serif" font-size="12.5" font-style="italic" fill="#000" font-weight="normal" textLength="6.60" lengthAdjust="spacingAndGlyphs">τ</text>
<text x="335.00" y="486.50" font-family="Liberation Serif" font-size="10" font-style="italic" fill="#000" font-weight="normal" textLength="13.10" lengthAdjust="spacingAndGlyphs">lsd</text>
<text x="351.80" y="484.20" font-family="Liberation Sans" font-size="11" font-style="normal" fill="#000" font-weight="normal" textLength="16.60" lengthAdjust="spacingAndGlyphs">[ns]</text>
<text x="463.2" y="301.2" font-family="Liberation Sans" font-size="22" font-weight="bold" fill="#000">g</text>
<line x1="510.40" y1="427.03" x2="669.20" y2="427.03" stroke="#d9d9d9" stroke-width="1.0" />
<line x1="510.40" y1="399.07" x2="669.20" y2="399.07" stroke="#d9d9d9" stroke-width="1.0" />
<line x1="510.40" y1="371.10" x2="669.20" y2="371.10" stroke="#d9d9d9" stroke-width="1.0" />
<line x1="510.40" y1="343.13" x2="669.20" y2="343.13" stroke="#d9d9d9" stroke-width="1.0" />
<line x1="510.40" y1="315.17" x2="669.20" y2="315.17" stroke="#d9d9d9" stroke-width="1.0" />
<line x1="589.80" y1="287.20" x2="589.80" y2="455.00" stroke="#d9d9d9" stroke-width="1.0" />
<rect x="510.4" y="287.2" width="158.80" height="167.80" fill="none" stroke="#d0d0d0" stroke-width="1.0"/>
<text x="497.60" y="291.10" font-family="Liberation Sans" font-size="11" text-anchor="end" fill="#000" font-weight="normal" font-style="normal" >1.0</text>
<text x="497.60" y="319.07" font-family="Liberation Sans" font-size="11" text-anchor="end" fill="#000" font-weight="normal" font-style="normal" >0.8</text>
<text x="497.60" y="347.04" font-family="Liberation Sans" font-size="11" text-anchor="end" fill="#000" font-weight="normal" font-style="normal" >0.6</text>
<text x="497.60" y="375.00" font-family="Liberation Sans" font-size="11" text-anchor="end" fill="#000" font-weight="normal" font-style="normal" >0.4</text>
<text x="497.60" y="402.97" font-family="Liberation Sans" font-size="11" text-anchor="end" fill="#000" font-weight="normal" font-style="normal" >0.2</text>
<text x="497.60" y="430.94" font-family="Liberation Sans" font-size="11" text-anchor="end" fill="#000" font-weight="normal" font-style="normal" >0.0</text>
<text x="497.60" y="458.90" font-family="Liberation Sans" font-size="11" text-anchor="end" fill="#000" font-weight="normal" font-style="normal" >-0.2</text>
<text x="510.40" y="473.30" font-family="Liberation Sans" font-size="11" text-anchor="middle" fill="#000" font-weight="normal" font-style="normal" >0.E+00</text>
<text x="589.80" y="473.30" font-family="Liberation Sans" font-size="11" text-anchor="middle" fill="#000" font-weight="normal" font-style="normal" >1.E-06</text>
<text x="669.60" y="473.30" font-family="Liberation Sans" font-size="11" text-anchor="middle" fill="#000" font-weight="normal" font-style="normal" >2.E-06</text>
<text x="589.60" y="484.70" font-family="Liberation Sans" font-size="11" text-anchor="middle" fill="#000" font-weight="normal" font-style="normal" >Time [s]</text>
<text transform="translate(475.00,370.70) rotate(-90)" font-family="Liberation Sans" font-size="11" text-anchor="middle" fill="#000" font-style="normal">Intensity [arb. units]</text>
<text x="533.4" y="301.0" font-family="Liberation Sans" font-size="11">256 GSa·S<tspan font-size="7.5" dy="-4">-1</tspan><tspan dy="4">, Single shot</tspan></text>
<line x1="515.80" y1="307.40" x2="515.80" y2="425.00" stroke="#333" stroke-width="1.1" />
<line x1="541.10" y1="308.00" x2="541.10" y2="425.00" stroke="#333" stroke-width="1.1" />
<line x1="566.20" y1="307.60" x2="566.20" y2="425.00" stroke="#333" stroke-width="1.1" />
<line x1="591.20" y1="307.40" x2="591.20" y2="425.00" stroke="#333" stroke-width="1.1" />
<line x1="616.50" y1="307.80" x2="616.50" y2="425.00" stroke="#333" stroke-width="1.1" />
<line x1="641.50" y1="307.60" x2="641.50" y2="425.00" stroke="#333" stroke-width="1.1" />
<line x1="666.80" y1="307.80" x2="666.80" y2="425.00" stroke="#333" stroke-width="1.1" />
<path d="M510.60,420.08 L511.15,418.99 L511.70,419.86 L512.25,417.73 L512.80,420.14 L513.35,418.74 L513.90,419.44 L514.45,419.72 L515.00,418.47 L515.55,418.09 L516.10,419.98 L516.65,420.11 L517.20,420.10 L517.75,419.22 L518.30,419.68 L518.85,419.55 L519.40,418.35 L519.95,417.34 L520.50,419.77 L521.05,419.60 L521.60,418.84 L522.15,419.43 L522.70,418.92 L523.25,419.18 L523.80,417.77 L524.35,418.96 L524.90,417.73 L525.45,419.83 L526.00,418.05 L526.55,418.81 L527.10,420.00 L527.65,419.37 L528.20,420.10 L528.75,417.81 L529.30,418.22 L529.85,419.57 L530.40,419.59 L530.95,419.93 L531.50,419.90 L532.05,419.97 L532.60,417.52 L533.15,415.51 L533.70,420.01 L534.25,419.93 L534.80,419.77 L535.35,419.62 L535.90,417.68 L536.45,418.92 L537.00,419.19 L537.55,418.67 L538.10,419.12 L538.65,418.52 L539.20,418.76 L539.75,418.32 L540.30,420.11 L540.85,418.64 L541.40,420.01 L541.95,418.73 L542.50,418.42 L543.05,419.89 L543.60,419.19 L544.15,419.68 L544.70,419.63 L545.25,419.74 L545.80,418.70 L546.35,420.19 L546.90,419.25 L547.45,419.46 L548.00,419.01 L548.55,419.81 L549.10,420.16 L549.65,418.28 L550.20,419.86 L550.75,419.88 L551.30,419.67 L551.85,420.01 L552.40,419.69 L552.95,419.50 L553.50,419.71 L554.05,419.22 L554.60,419.13 L555.15,420.10 L555.70,419.37 L556.25,419.33 L556.80,419.77 L557.35,419.54 L557.90,419.79 L558.45,419.46 L559.00,419.92 L559.55,419.43 L560.10,419.03 L560.65,419.54 L561.20,417.09 L561.75,417.41 L562.30,417.28 L562.85,419.37 L563.40,420.13 L563.95,419.38 L564.50,419.91 L565.05,420.13 L565.60,419.29 L566.15,420.05 L566.70,418.56 L567.25,417.74 L567.80,418.82 L568.35,418.06 L568.90,419.68 L569.45,419.37 L570.00,417.57 L570.55,419.30 L571.10,420.16 L571.65,417.95 L572.20,419.69 L572.75,417.86 L573.30,419.11 L573.85,418.12 L574.40,420.13 L574.95,418.41 L575.50,419.22 L576.05,420.01 L576.60,418.90 L577.15,420.19 L577.70,419.56 L578.25,419.85 L578.80,417.68 L579.35,418.88 L579.90,419.75 L580.45,419.09 L581.00,419.15 L581.55,419.78 L582.10,419.02 L582.65,419.93 L583.20,419.49 L583.75,418.96 L584.30,419.94 L584.85,419.63 L585.40,419.06 L585.95,418.18 L586.50,418.44 L587.05,419.25 L587.60,418.25 L588.15,418.97 L588.70,417.81 L589.25,419.04 L589.80,418.36 L590.35,420.09 L590.90,418.50 L591.45,418.78 L592.00,419.69 L592.55,420.03 L593.10,418.82 L593.65,419.48 L594.20,420.14 L594.75,419.70 L595.30,419.60 L595.85,417.73 L596.40,418.39 L596.95,419.06 L597.50,418.57 L598.05,420.09 L598.60,420.03 L599.15,420.07 L599.70,420.18 L600.25,419.13 L600.80,417.96 L601.35,420.16 L601.90,420.20 L602.45,420.17 L603.00,419.32 L603.55,419.40 L604.10,418.87 L604.65,418.88 L605.20,420.19 L605.75,419.41 L606.30,419.48 L606.85,418.34 L607.40,419.61 L607.95,418.42 L608.50,418.84 L609.05,418.26 L609.60,419.80 L610.15,419.66 L610.70,419.83 L611.25,419.04 L611.80,419.62 L612.35,418.02 L612.90,419.32 L613.45,420.14 L614.00,418.93 L614.55,419.62 L615.10,419.22 L615.65,417.72 L616.20,418.46 L616.75,417.78 L617.30,419.48 L617.85,418.14 L618.40,419.38 L618.95,419.86 L619.50,419.28 L620.05,420.00 L620.60,418.72 L621.15,419.61 L621.70,419.83 L622.25,419.42 L622.80,418.44 L623.35,420.12 L623.90,419.67 L624.45,420.13 L625.00,418.14 L625.55,419.88 L626.10,418.49 L626.65,419.03 L627.20,418.82 L627.75,419.77 L628.30,418.96 L628.85,419.57 L629.40,419.90 L629.95,418.14 L630.50,419.71 L631.05,419.03 L631.60,419.89 L632.15,419.65 L632.70,418.87 L633.25,419.99 L633.80,418.31 L634.35,419.58 L634.90,418.99 L635.45,419.81 L636.00,419.45 L636.55,419.08 L637.10,419.02 L637.65,419.83 L638.20,419.55 L638.75,419.18 L639.30,418.85 L639.85,419.34 L640.40,419.89 L640.95,418.33 L641.50,420.15 L642.05,420.12 L642.60,420.07 L643.15,419.93 L643.70,419.22 L644.25,420.06 L644.80,419.54 L645.35,418.04 L645.90,418.68 L646.45,419.41 L647.00,419.68 L647.55,419.82 L648.10,419.86 L648.65,418.34 L649.20,419.33 L649.75,419.59 L650.30,419.51 L650.85,418.54 L651.40,419.91 L651.95,420.14 L652.50,419.30 L653.05,418.99 L653.60,418.57 L654.15,417.82 L654.70,419.77 L655.25,419.25 L655.80,418.52 L656.35,417.97 L656.90,419.41 L657.45,418.77 L658.00,419.64 L658.55,418.71 L659.10,419.34 L659.65,417.19 L660.20,419.65 L660.75,419.72 L661.30,419.03 L661.85,420.15 L662.40,417.29 L662.95,419.03 L663.50,419.96 L664.05,419.09 L664.60,418.35 L665.15,420.12 L665.70,419.15 L666.25,419.30 L666.80,420.14 L667.35,419.90 L667.90,419.43 L668.45,419.39 L668.45,434.89 L667.90,434.01 L667.35,433.84 L666.80,435.10 L666.25,434.67 L665.70,436.42 L665.15,434.79 L664.60,434.51 L664.05,434.97 L663.50,434.26 L662.95,435.96 L662.40,434.32 L661.85,434.12 L661.30,433.98 L660.75,435.35 L660.20,434.04 L659.65,434.92 L659.10,434.72 L658.55,433.95 L658.00,435.10 L657.45,433.81 L656.90,434.89 L656.35,433.63 L655.80,434.85 L655.25,434.75 L654.70,434.61 L654.15,436.26 L653.60,434.16 L653.05,434.00 L652.50,436.19 L651.95,433.91 L651.40,434.54 L650.85,433.89 L650.30,434.11 L649.75,434.00 L649.20,435.58 L648.65,434.67 L648.10,434.37 L647.55,435.66 L647.00,433.97 L646.45,434.27 L645.90,435.61 L645.35,434.18 L644.80,434.75 L644.25,434.81 L643.70,433.63 L643.15,433.87 L642.60,434.87 L642.05,434.82 L641.50,435.23 L640.95,434.46 L640.40,434.35 L639.85,434.75 L639.30,434.55 L638.75,435.41 L638.20,433.90 L637.65,434.15 L637.10,436.06 L636.55,435.05 L636.00,433.93 L635.45,435.52 L634.90,433.65 L634.35,433.74 L633.80,434.07 L633.25,435.77 L632.70,435.54 L632.15,435.47 L631.60,435.77 L631.05,434.05 L630.50,433.92 L629.95,435.36 L629.40,435.50 L628.85,433.78 L628.30,433.96 L627.75,435.27 L627.20,434.18 L626.65,433.65 L626.10,434.54 L625.55,434.78 L625.00,434.95 L624.45,434.15 L623.90,434.86 L623.35,436.20 L622.80,435.76 L622.25,435.47 L621.70,434.53 L621.15,434.37 L620.60,436.53 L620.05,435.66 L619.50,433.79 L618.95,436.88 L618.40,434.63 L617.85,433.84 L617.30,435.09 L616.75,434.09 L616.20,433.82 L615.65,436.74 L615.10,435.62 L614.55,434.69 L614.00,433.76 L613.45,433.88 L612.90,434.12 L612.35,434.92 L611.80,435.55 L611.25,436.60 L610.70,434.47 L610.15,435.24 L609.60,434.54 L609.05,434.33 L608.50,434.38 L607.95,434.82 L607.40,434.04 L606.85,433.79 L606.30,434.99 L605.75,435.63 L605.20,434.37 L604.65,433.83 L604.10,434.37 L603.55,434.69 L603.00,434.57 L602.45,434.90 L601.90,435.40 L601.35,434.42 L600.80,434.55 L600.25,434.03 L599.70,436.64 L599.15,434.20 L598.60,435.15 L598.05,433.94 L597.50,434.10 L596.95,435.79 L596.40,435.33 L595.85,433.97 L595.30,434.16 L594.75,433.92 L594.20,433.99 L593.65,433.62 L593.10,434.64 L592.55,435.27 L592.00,435.46 L591.45,435.91 L590.90,435.26 L590.35,435.05 L589.80,434.98 L589.25,434.09 L588.70,434.80 L588.15,434.19 L587.60,434.05 L587.05,433.84 L586.50,434.56 L585.95,433.65 L585.40,434.12 L584.85,435.32 L584.30,434.85 L583.75,434.87 L583.20,433.99 L582.65,434.84 L582.10,434.76 L581.55,434.68 L581.00,434.24 L580.45,435.11 L579.90,434.63 L579.35,434.39 L578.80,434.00 L578.25,433.95 L577.70,433.83 L577.15,433.68 L576.60,434.28 L576.05,435.18 L575.50,433.92 L574.95,435.47 L574.40,433.74 L573.85,434.71 L573.30,435.63 L572.75,434.12 L572.20,434.29 L571.65,433.92 L571.10,436.19 L570.55,434.37 L570.00,435.19 L569.45,434.95 L568.90,434.57 L568.35,433.78 L567.80,434.61 L567.25,434.87 L566.70,434.74 L566.15,433.97 L565.60,434.17 L565.05,434.08 L564.50,434.75 L563.95,434.94 L563.40,436.07 L562.85,434.01 L562.30,434.88 L561.75,436.22 L561.20,433.69 L560.65,433.96 L560.10,434.24 L559.55,434.71 L559.00,434.59 L558.45,434.39 L557.90,434.72 L557.35,435.34 L556.80,434.56 L556.25,435.93 L555.70,433.76 L555.15,434.25 L554.60,434.54 L554.05,435.21 L553.50,434.22 L552.95,434.81 L552.40,434.65 L551.85,434.17 L551.30,434.88 L550.75,434.51 L550.20,434.46 L549.65,434.49 L549.10,433.90 L548.55,434.80 L548.00,434.88 L547.45,434.45 L546.90,434.23 L546.35,435.04 L545.80,436.59 L545.25,433.66 L544.70,435.65 L544.15,434.69 L543.60,434.65 L543.05,433.94 L542.50,433.83 L541.95,434.47 L541.40,433.66 L540.85,433.82 L540.30,434.70 L539.75,434.47 L539.20,434.16 L538.65,434.26 L538.10,434.97 L537.55,433.99 L537.00,434.37 L536.45,436.62 L535.90,434.29 L535.35,434.08 L534.80,434.86 L534.25,433.79 L533.70,434.08 L533.15,433.76 L532.60,436.08 L532.05,434.74 L531.50,433.86 L530.95,433.88 L530.40,435.74 L529.85,434.00 L529.30,434.83 L528.75,436.73 L528.20,434.06 L527.65,435.08 L527.10,434.47 L526.55,434.55 L526.00,436.18 L525.45,434.28 L524.90,436.73 L524.35,436.32 L523.80,435.02 L523.25,434.99 L522.70,433.66 L522.15,434.39 L521.60,433.90 L521.05,434.29 L520.50,434.01 L519.95,434.64 L519.40,435.03 L518.85,436.46 L518.30,436.22 L517.75,434.70 L517.20,433.91 L516.65,435.34 L516.10,434.02 L515.55,433.91 L515.00,435.56 L514.45,434.17 L513.90,434.87 L513.35,433.64 L512.80,434.55 L512.25,433.80 L511.70,433.94 L511.15,434.89 L510.60,435.23 Z" fill="#000"/>
<rect x="510.59999999999997" y="419.8" width="158.30" height="14.2" fill="#000"/>
<text x="4.2" y="516.8" font-family="Liberation Sans" font-size="22" font-weight="bold" fill="#000">d</text>
<line x1="80.16" y1="501.20" x2="80.16" y2="673.00" stroke="#d9d9d9" stroke-width="1.0" />
<line x1="112.52" y1="501.20" x2="112.52" y2="673.00" stroke="#d9d9d9" stroke-width="1.0" />
<line x1="144.88" y1="501.20" x2="144.88" y2="673.00" stroke="#d9d9d9" stroke-width="1.0" />
<line x1="177.24" y1="501.20" x2="177.24" y2="673.00" stroke="#d9d9d9" stroke-width="1.0" />
<line x1="47.80" y1="648.46" x2="209.60" y2="648.46" stroke="#d9d9d9" stroke-width="1.0" />
<line x1="47.80" y1="623.91" x2="209.60" y2="623.91" stroke="#d9d9d9" stroke-width="1.0" />
<line x1="47.80" y1="599.37" x2="209.60" y2="599.37" stroke="#d9d9d9" stroke-width="1.0" />
<line x1="47.80" y1="574.83" x2="209.60" y2="574.83" stroke="#d9d9d9" stroke-width="1.0" />
<line x1="47.80" y1="550.29" x2="209.60" y2="550.29" stroke="#d9d9d9" stroke-width="1.0" />
<line x1="47.80" y1="525.74" x2="209.60" y2="525.74" stroke="#d9d9d9" stroke-width="1.0" />
<rect x="47.8" y="501.2" width="161.80" height="171.80" fill="none" stroke="#d0d0d0" stroke-width="1.0"/>
<text x="35.60" y="676.90" font-family="Liberation Sans" font-size="11" text-anchor="end" fill="#000" font-weight="normal" font-style="normal" >0.0</text>
<text x="35.60" y="652.36" font-family="Liberation Sans" font-size="11" text-anchor="end" fill="#000" font-weight="normal" font-style="normal" >0.5</text>
<text x="35.60" y="627.82" font-family="Liberation Sans" font-size="11" text-anchor="end" fill="#000" font-weight="normal" font-style="normal" >1.0</text>
<text x="35.60" y="603.28" font-family="Liberation Sans" font-size="11" text-anchor="end" fill="#000" font-weight="normal" font-style="normal" >1.5</text>
<text x="35.60" y="578.73" font-family="Liberation Sans" font-size="11" text-anchor="end" fill="#000" font-weight="normal" font-style="normal" >2.0</text>
<text x="35.60" y="554.19" font-family="Liberation Sans" font-size="11" text-anchor="end" fill="#000" font-weight="normal" font-style="normal" >2.5</text>
<text x="35.60" y="529.65" font-family="Liberation Sans" font-size="11" text-anchor="end" fill="#000" font-weight="normal" font-style="normal" >3.0</text>
<text x="35.60" y="505.10" font-family="Liberation Sans" font-size="11" text-anchor="end" fill="#000" font-weight="normal" font-style="normal" >3.5</text>
<text x="46.00" y="690.40" font-family="Liberation Sans" font-size="11" text-anchor="middle" fill="#000" font-weight="normal" font-style="normal" >0.0</text>
<text x="78.36" y="690.40" font-family="Liberation Sans" font-size="11" text-anchor="middle" fill="#000" font-weight="normal" font-style="normal" >0.2</text>
<text x="110.72" y="690.40" font-family="Liberation Sans" font-size="11" text-anchor="middle" fill="#000" font-weight="normal" font-style="normal" >0.4</text>
<text x="143.08" y="690.40" font-family="Liberation Sans" font-size="11" text-anchor="middle" fill="#000" font-weight="normal" font-style="normal" >0.6</text>
<text x="175.44" y="690.40" font-family="Liberation Sans" font-size="11" text-anchor="middle" fill="#000" font-weight="normal" font-style="normal" >0.8</text>
<text x="207.80" y="690.40" font-family="Liberation Sans" font-size="11" text-anchor="middle" fill="#000" font-weight="normal" font-style="normal" >1.0</text>
<text x="129.30" y="699.80" font-family="Liberation Sans" font-size="11" text-anchor="middle" fill="#000" font-weight="normal" font-style="normal" >Tme [ns]</text>
<text transform="translate(8.50,585.00) rotate(-90)" font-family="Liberation Sans" font-size="11" text-anchor="middle" fill="#000" font-style="normal">Powe [W]</text>
<path d="M64.40,670.70 L70.00,670.60 L74.00,670.00 L77.00,668.60 L79.50,665.50 L81.50,658.00 L83.00,645.00 L84.30,625.00 L85.40,600.00 L86.40,575.00 L87.30,550.00 L88.00,530.00 L88.40,523.20 L89.00,526.00 L89.80,545.00 L90.80,568.00 L92.00,588.00 L93.50,606.00 L95.50,628.00 L97.60,648.00 L100.00,657.50 L102.50,662.50 L105.00,666.50 L108.00,669.30 L112.00,670.80 L120.00,671.60 L140.00,672.00 L157.00,672.10" fill="none" stroke="#000" stroke-width="2.3" stroke-linejoin="round"/>
<path d="M64.40,672.68 L64.90,672.75 L65.40,672.68 L65.90,672.67 L66.40,672.62 L66.90,672.68 L67.40,672.80 L67.90,672.74 L68.40,672.79 L68.90,672.72 L69.40,672.74 L69.90,672.72 L70.40,672.55 L70.90,672.78 L71.40,672.75 L71.90,672.74 L72.40,672.55 L72.90,672.54 L73.40,672.62 L73.90,672.66 L74.40,672.73 L74.90,672.70 L75.40,672.75 L75.90,672.64 L76.40,672.73 L76.90,672.74 L77.40,672.64 L77.90,672.85 L78.40,672.75 L78.90,672.81 L79.40,672.64 L79.90,672.63 L80.40,672.67 L80.90,672.69 L81.40,672.76 L81.90,672.72 L82.40,672.66 L82.90,672.61 L83.40,672.65 L83.90,672.81 L84.40,672.63 L84.90,672.72 L85.40,672.74 L85.90,672.57 L86.40,672.70 L86.90,672.82 L87.40,672.52 L87.90,672.67 L88.40,672.69 L88.90,672.63 L89.40,672.74 L89.90,672.69 L90.40,672.57 L90.90,672.77 L91.40,672.76 L91.90,672.79 L92.40,672.83 L92.90,672.73 L93.40,672.71 L93.90,672.58 L94.40,672.76 L94.90,672.64 L95.40,672.66 L95.90,672.59 L96.40,672.61 L96.90,672.65 L97.40,672.82 L97.90,672.52 L98.40,672.57 L98.90,672.72 L99.40,672.83 L99.90,672.75 L100.40,672.53 L100.90,672.47 L101.40,672.73 L101.90,672.63 L102.40,672.60 L102.90,672.79 L103.40,672.80 L103.90,672.71 L104.40,672.72 L104.90,672.74 L105.40,672.84 L105.90,672.76 L106.40,672.75 L106.90,672.75 L107.40,672.56 L107.90,672.60 L108.40,672.52 L108.90,672.43 L109.40,672.14 L109.90,671.96 L110.40,672.54 L110.90,671.26 L111.40,671.89 L111.90,672.32 L112.40,671.15 L112.90,672.33 L113.40,671.71 L113.90,671.25 L114.40,671.31 L114.90,671.29 L115.40,670.89 L115.90,671.18 L116.40,670.20 L116.90,670.15 L117.40,670.65 L117.90,670.04 L118.40,669.48 L118.90,670.17 L119.40,670.28 L119.90,669.30 L120.40,668.78 L120.90,669.26 L121.40,669.17 L121.90,669.04 L122.40,669.76 L122.90,668.62 L123.40,669.61 L123.90,668.44 L124.40,668.64 L124.90,669.25 L125.40,669.45 L125.90,669.30 L126.40,669.04 L126.90,668.91 L127.40,668.86 L127.90,669.00 L128.40,668.60 L128.90,668.73 L129.40,668.78 L129.90,668.44 L130.40,668.69 L130.90,668.50 L131.40,669.04 L131.90,668.17 L132.40,667.73 L132.90,667.64 L133.40,667.70 L133.90,668.03 L134.40,667.37 L134.90,667.61 L135.40,668.19 L135.90,666.15 L136.40,666.76 L136.90,667.34 L137.40,667.39 L137.90,667.32 L138.40,667.04 L138.90,667.55 L139.40,667.43 L139.90,667.13 L140.40,668.53 L140.90,667.68 L141.40,667.37 L141.90,667.68 L142.40,667.73 L142.90,667.93 L143.40,666.85 L143.90,667.99 L144.40,668.80 L144.90,667.95 L145.40,668.58 L145.90,669.17 L146.40,669.26 L146.90,669.67 L147.40,668.35 L147.90,669.07 L148.40,669.18 L148.90,669.72 L149.40,670.02 L149.90,668.41 L150.40,670.19 L150.90,669.12 L151.40,670.14 L151.90,669.22 L152.40,670.02 L152.90,670.52 L153.40,669.95 L153.90,670.13 L154.40,670.43 L154.90,670.16 L155.40,670.07 L155.90,670.81 L156.40,670.61 L156.90,670.01 L157.40,671.39 L157.90,669.64 L158.40,670.57 L158.90,670.05 L159.40,670.23 L159.90,670.49 L160.40,670.28 L160.90,670.48 L161.40,669.51 L161.90,669.53 L162.40,670.50 L162.90,669.80 L163.40,669.79 L163.90,669.61 L164.40,670.86 L164.90,670.66 L165.40,671.01 L165.90,669.95 L166.40,670.41 L166.90,669.93 L167.40,670.82 L167.90,671.23 L168.40,670.15 L168.90,671.30 L169.40,671.08 L169.90,670.61 L170.40,669.85 L170.90,671.41 L171.40,670.79 L171.90,670.61 L172.40,671.11 L172.90,671.17 L173.40,671.71 L173.90,670.63 L174.40,671.66 L174.90,671.87 L175.40,671.91 L175.90,671.23 L176.40,671.03 L176.90,671.88 L177.40,671.52 L177.90,671.58 L178.40,672.22 L178.90,671.51 L179.40,670.64 L179.90,671.55 L180.40,670.94 L180.90,672.19 L181.40,672.01 L181.90,671.63 L182.40,671.95 L182.90,672.37 L183.40,672.07 L183.90,672.67 L184.40,672.08 L184.90,672.61 L185.40,672.85 L185.90,672.93 L186.40,671.94 L186.90,672.67 L187.40,671.46 L187.90,671.84 L188.40,671.47 L188.90,672.86 L189.40,671.85 L189.90,672.42 L190.40,672.36 L190.90,672.45" fill="none" stroke="#c00000" stroke-width="2.1" stroke-linejoin="round"/>
<line x1="88.30" y1="504.40" x2="88.30" y2="673.00" stroke="#222" stroke-width="1.2" stroke-dasharray="3.6,2.4"/>
<line x1="135.00" y1="617.00" x2="135.00" y2="673.00" stroke="#333" stroke-width="1.2" stroke-dasharray="3.6,2.4"/>
<line x1="89.30" y1="644.00" x2="134.00" y2="644.00" stroke="#000" stroke-width="1.3" marker-start="url(#ah)" marker-end="url(#ah)"/>
<text x="100.70" y="641.11" font-family="Liberation Sans" font-size="11" text-anchor="start" fill="#000" font-weight="normal" font-style="normal" >289 ps</text>
<text x="95.60" y="571.40" font-family="Liberation Sans" font-size="11" text-anchor="start" fill="#000" font-weight="normal" font-style="normal" >Pulse</text>
<text x="148.60" y="662.30" font-family="Liberation Sans" font-size="11" text-anchor="start" fill="#000" font-weight="normal" font-style="normal" >Tail</text>
<text x="123.90" y="521.80" font-family="Liberation Serif" font-size="13" font-style="normal" fill="#000" font-weight="normal" textLength="6.00" lengthAdjust="spacingAndGlyphs">Δ</text>
<text x="130.10" y="521.80" font-family="Liberation Serif" font-size="13.5" font-style="italic" fill="#000" font-weight="normal" textLength="6.90" lengthAdjust="spacingAndGlyphs">τ</text>
<text x="137.00" y="523.50" font-family="Liberation Serif" font-size="10.5" font-style="italic" fill="#000" font-weight="normal" textLength="13.10" lengthAdjust="spacingAndGlyphs">lsd</text>
<text x="151.40" y="521.80" font-family="Liberation Serif" font-size="13" font-style="normal" fill="#000" font-weight="normal" textLength="7.90" lengthAdjust="spacingAndGlyphs">=</text>
<text x="163.90" y="521.80" font-family="Liberation Serif" font-size="13" font-style="normal" fill="#000" font-weight="normal" textLength="21.60" lengthAdjust="spacingAndGlyphs">5.22</text>
<text x="190.90" y="521.80" font-family="Liberation Sans" font-size="11" font-style="normal" fill="#000" font-weight="normal" textLength="11.20" lengthAdjust="spacingAndGlyphs">ps</text>
<text x="232.8" y="515.6" font-family="Liberation Sans" font-size="22" font-weight="bold" fill="#000">f</text>
<line x1="311.38" y1="500.80" x2="311.38" y2="668.90" stroke="#d9d9d9" stroke-width="1.0" />
<line x1="347.25" y1="500.80" x2="347.25" y2="668.90" stroke="#d9d9d9" stroke-width="1.0" />
<line x1="383.12" y1="500.80" x2="383.12" y2="668.90" stroke="#d9d9d9" stroke-width="1.0" />
<line x1="275.50" y1="635.28" x2="419.00" y2="635.28" stroke="#d9d9d9" stroke-width="1.0" />
<line x1="275.50" y1="601.66" x2="419.00" y2="601.66" stroke="#d9d9d9" stroke-width="1.0" />
<line x1="275.50" y1="568.04" x2="419.00" y2="568.04" stroke="#d9d9d9" stroke-width="1.0" />
<line x1="275.50" y1="534.42" x2="419.00" y2="534.42" stroke="#d9d9d9" stroke-width="1.0" />
<rect x="275.5" y="500.8" width="143.50" height="168.10" fill="none" stroke="#d0d0d0" stroke-width="1.0"/>
<line x1="416.00" y1="652.09" x2="419.00" y2="652.09" stroke="#bbb" stroke-width="1.0" />
<line x1="416.00" y1="618.47" x2="419.00" y2="618.47" stroke="#bbb" stroke-width="1.0" />
<line x1="416.00" y1="584.85" x2="419.00" y2="584.85" stroke="#bbb" stroke-width="1.0" />
<line x1="416.00" y1="551.23" x2="419.00" y2="551.23" stroke="#bbb" stroke-width="1.0" />
<line x1="416.00" y1="517.61" x2="419.00" y2="517.61" stroke="#bbb" stroke-width="1.0" />
<text x="266.20" y="672.80" font-family="Liberation Sans" font-size="11" text-anchor="end" fill="#000" font-weight="normal" font-style="normal" >816</text>
<text x="266.20" y="639.18" font-family="Liberation Sans" font-size="11" text-anchor="end" fill="#000" font-weight="normal" font-style="normal" >818</text>
<text x="266.20" y="605.56" font-family="Liberation Sans" font-size="11" text-anchor="end" fill="#000" font-weight="normal" font-style="normal" >820</text>
<text x="266.20" y="571.94" font-family="Liberation Sans" font-size="11" text-anchor="end" fill="#000" font-weight="normal" font-style="normal" >822</text>
<text x="266.20" y="538.33" font-family="Liberation Sans" font-size="11" text-anchor="end" fill="#000" font-weight="normal" font-style="normal" >824</text>
<text x="266.20" y="504.70" font-family="Liberation Sans" font-size="11" text-anchor="end" fill="#000" font-weight="normal" font-style="normal" >826</text>
<text x="428.80" y="672.80" font-family="Liberation Sans" font-size="11" text-anchor="start" fill="#000" font-weight="normal" font-style="normal" >0</text>
<text x="428.80" y="639.18" font-family="Liberation Sans" font-size="11" text-anchor="start" fill="#000" font-weight="normal" font-style="normal" >0.2</text>
<text x="428.80" y="605.56" font-family="Liberation Sans" font-size="11" text-anchor="start" fill="#000" font-weight="normal" font-style="normal" >0.4</text>
<text x="428.80" y="571.94" font-family="Liberation Sans" font-size="11" text-anchor="start" fill="#000" font-weight="normal" font-style="normal" >0.6</text>
<text x="428.80" y="538.33" font-family="Liberation Sans" font-size="11" text-anchor="start" fill="#000" font-weight="normal" font-style="normal" >0.8</text>
<text x="428.80" y="504.70" font-family="Liberation Sans" font-size="11" text-anchor="start" fill="#000" font-weight="normal" font-style="normal" >1</text>
<text x="274.70" y="686.40" font-family="Liberation Sans" font-size="11" text-anchor="middle" fill="#000" font-weight="normal" font-style="normal" >2</text>
<text x="310.57" y="686.40" font-family="Liberation Sans" font-size="11" text-anchor="middle" fill="#000" font-weight="normal" font-style="normal" >3</text>
<text x="346.45" y="686.40" font-family="Liberation Sans" font-size="11" text-anchor="middle" fill="#000" font-weight="normal" font-style="normal" >4</text>
<text x="382.32" y="686.40" font-family="Liberation Sans" font-size="11" text-anchor="middle" fill="#000" font-weight="normal" font-style="normal" >5</text>
<text x="418.20" y="686.40" font-family="Liberation Sans" font-size="11" text-anchor="middle" fill="#000" font-weight="normal" font-style="normal" >6</text>
<text transform="translate(240.71,584.80) rotate(-90)" font-family="Liberation Sans" font-size="11" text-anchor="middle" fill="#000" font-style="normal">Wavelength [nm]</text>
<text transform="translate(456.30,584.20) rotate(-90)" font-family="Liberation Sans" font-size="11" text-anchor="middle" fill="#000" font-style="normal">Ratio of tail</text>
<polyline points="303.20,572.40 317.40,551.50 321.60,550.00 331.10,536.40 345.20,522.10 349.70,526.30 358.40,525.70 372.70,522.50 386.50,520.10 391.30,517.80" fill="none" stroke="#000" stroke-width="1.5" stroke-linejoin="round" />
<circle cx="303.20" cy="572.40" r="2.5" fill="#000"/>
<circle cx="317.40" cy="551.50" r="2.5" fill="#000"/>
<circle cx="321.60" cy="550.00" r="2.5" fill="#000"/>
<circle cx="331.10" cy="536.40" r="2.5" fill="#000"/>
<circle cx="345.20" cy="522.10" r="2.5" fill="#000"/>
<circle cx="349.70" cy="526.30" r="2.5" fill="#000"/>
<circle cx="358.40" cy="525.70" r="2.5" fill="#000"/>
<circle cx="372.70" cy="522.50" r="2.5" fill="#000"/>
<circle cx="386.50" cy="520.10" r="2.5" fill="#000"/>
<circle cx="391.30" cy="517.80" r="2.5" fill="#000"/>
<polyline points="303.20,569.40 317.10,551.40 321.60,554.40 331.10,550.00 345.20,560.50 349.70,562.80 358.40,595.00 372.70,595.00 386.50,605.10 391.30,603.20" fill="none" stroke="#c00000" stroke-width="1.5" stroke-linejoin="round" />
<circle cx="303.20" cy="569.40" r="2.5" fill="#c00000"/>
<circle cx="317.10" cy="551.40" r="2.5" fill="#c00000"/>
<circle cx="321.60" cy="554.40" r="2.5" fill="#c00000"/>
<circle cx="331.10" cy="550.00" r="2.5" fill="#c00000"/>
<circle cx="345.20" cy="560.50" r="2.5" fill="#c00000"/>
<circle cx="349.70" cy="562.80" r="2.5" fill="#c00000"/>
<circle cx="358.40" cy="595.00" r="2.5" fill="#c00000"/>
<circle cx="372.70" cy="595.00" r="2.5" fill="#c00000"/>
<circle cx="386.50" cy="605.10" r="2.5" fill="#c00000"/>
<circle cx="391.30" cy="603.20" r="2.5" fill="#c00000"/>
<polyline points="303.20,591.80 317.20,608.40 321.70,603.00 331.00,615.00 345.00,633.90 349.40,637.50 358.50,647.40 372.70,650.80 386.40,651.70 391.10,653.10" fill="none" stroke="#3b72c8" stroke-width="1.4" stroke-linejoin="round" />
<circle cx="303.20" cy="591.80" r="2.5" fill="#2f80d8"/>
<circle cx="317.20" cy="608.40" r="2.5" fill="#2f80d8"/>
<circle cx="321.70" cy="603.00" r="2.5" fill="#2f80d8"/>
<circle cx="331.00" cy="615.00" r="2.5" fill="#2f80d8"/>
<circle cx="345.00" cy="633.90" r="2.5" fill="#2f80d8"/>
<circle cx="349.40" cy="637.50" r="2.5" fill="#2f80d8"/>
<circle cx="358.50" cy="647.40" r="2.5" fill="#2f80d8"/>
<circle cx="372.70" cy="650.80" r="2.5" fill="#2f80d8"/>
<circle cx="386.40" cy="651.70" r="2.5" fill="#2f80d8"/>
<circle cx="391.10" cy="653.10" r="2.5" fill="#2f80d8"/>
<line x1="391.30" y1="521.50" x2="391.30" y2="600.00" stroke="#000" stroke-width="1.3" marker-start="url(#ah)" marker-end="url(#ah)"/>
<text transform="translate(403.70,557.60) rotate(-90)" font-family="Liberation Sans" font-size="11" text-anchor="middle" fill="#000" font-style="normal">5.02 nm</text>
<text x="307.00" y="527.70" font-family="Liberation Sans" font-size="11" text-anchor="start" fill="#000" font-weight="normal" font-style="normal" >Pulse</text>
<text x="360.10" y="582.80" font-family="Liberation Sans" font-size="11" text-anchor="start" fill="#000" font-weight="normal" font-style="normal" >Tail</text>
<text x="291.40" y="651.30" font-family="Liberation Sans" font-size="11" text-anchor="start" fill="#000" font-weight="normal" font-style="normal" >Ratio of tail</text>
<path d="M308.9,559.3 C300,558.3 294,557.8 292.5,556.5 C291,554.8 296,553.5 299.5,552.7 C302,552 301.5,550.8 298.4,550.6 L283,550.5" fill="none" stroke="#1f3864" stroke-width="1.6"/>
<path d="M284.2,547.6 L278.6,550.5 L284.2,553.4 z" fill="#1f3864"/>
<path d="M385.2,644.5 C391,637 398,630 411.8,628.4" fill="none" stroke="#1f3864" stroke-width="1.5" marker-end="url(#ahn)"/>
<text x="323.30" y="697.50" font-family="Liberation Serif" font-size="12.5" font-style="normal" fill="#000" font-weight="normal" textLength="5.20" lengthAdjust="spacingAndGlyphs">Δ</text>
<text x="328.60" y="697.50" font-family="Liberation Serif" font-size="12.5" font-style="italic" fill="#000" font-weight="normal" textLength="6.60" lengthAdjust="spacingAndGlyphs">τ</text>
<text x="336.30" y="700.00" font-family="Liberation Serif" font-size="10" font-style="italic" fill="#000" font-weight="normal" textLength="13.10" lengthAdjust="spacingAndGlyphs">lsd</text>
<text x="353.10" y="697.70" font-family="Liberation Sans" font-size="11" font-style="normal" fill="#000" font-weight="normal" textLength="16.60" lengthAdjust="spacingAndGlyphs">[ns]</text>
<text x="463.8" y="516.1" font-family="Liberation Sans" font-size="22" font-weight="bold" fill="#000">h</text>
<line x1="542.32" y1="504.50" x2="542.32" y2="671.40" stroke="#d9d9d9" stroke-width="1.0" />
<line x1="576.34" y1="504.50" x2="576.34" y2="671.40" stroke="#d9d9d9" stroke-width="1.0" />
<line x1="610.36" y1="504.50" x2="610.36" y2="671.40" stroke="#d9d9d9" stroke-width="1.0" />
<line x1="644.38" y1="504.50" x2="644.38" y2="671.40" stroke="#d9d9d9" stroke-width="1.0" />
<line x1="508.30" y1="643.58" x2="678.40" y2="643.58" stroke="#d9d9d9" stroke-width="1.0" />
<line x1="508.30" y1="615.77" x2="678.40" y2="615.77" stroke="#d9d9d9" stroke-width="1.0" />
<line x1="508.30" y1="587.95" x2="678.40" y2="587.95" stroke="#d9d9d9" stroke-width="1.0" />
<line x1="508.30" y1="560.13" x2="678.40" y2="560.13" stroke="#d9d9d9" stroke-width="1.0" />
<line x1="508.30" y1="532.32" x2="678.40" y2="532.32" stroke="#d9d9d9" stroke-width="1.0" />
<rect x="508.3" y="504.5" width="170.10" height="166.90" fill="none" stroke="#d0d0d0" stroke-width="1.0"/>
<text x="498.70" y="675.30" font-family="Liberation Sans" font-size="11" text-anchor="end" fill="#000" font-weight="normal" font-style="normal" >0</text>
<text x="498.70" y="647.49" font-family="Liberation Sans" font-size="11" text-anchor="end" fill="#000" font-weight="normal" font-style="normal" >100</text>
<text x="498.70" y="619.67" font-family="Liberation Sans" font-size="11" text-anchor="end" fill="#000" font-weight="normal" font-style="normal" >200</text>
<text x="498.70" y="591.86" font-family="Liberation Sans" font-size="11" text-anchor="end" fill="#000" font-weight="normal" font-style="normal" >300</text>
<text x="498.70" y="564.04" font-family="Liberation Sans" font-size="11" text-anchor="end" fill="#000" font-weight="normal" font-style="normal" >400</text>
<text x="498.70" y="536.22" font-family="Liberation Sans" font-size="11" text-anchor="end" fill="#000" font-weight="normal" font-style="normal" >500</text>
<text x="498.70" y="508.40" font-family="Liberation Sans" font-size="11" text-anchor="end" fill="#000" font-weight="normal" font-style="normal" >600</text>
<text x="508.30" y="688.61" font-family="Liberation Sans" font-size="11" text-anchor="middle" fill="#000" font-weight="normal" font-style="normal" >-20</text>
<text x="542.32" y="688.61" font-family="Liberation Sans" font-size="11" text-anchor="middle" fill="#000" font-weight="normal" font-style="normal" >-10</text>
<text x="576.34" y="688.61" font-family="Liberation Sans" font-size="11" text-anchor="middle" fill="#000" font-weight="normal" font-style="normal" >0</text>
<text x="610.36" y="688.61" font-family="Liberation Sans" font-size="11" text-anchor="middle" fill="#000" font-weight="normal" font-style="normal" >10</text>
<text x="644.38" y="688.61" font-family="Liberation Sans" font-size="11" text-anchor="middle" fill="#000" font-weight="normal" font-style="normal" >20</text>
<text x="678.40" y="688.61" font-family="Liberation Sans" font-size="11" text-anchor="middle" fill="#000" font-weight="normal" font-style="normal" >30</text>
<text x="593.20" y="698.70" font-family="Liberation Sans" font-size="11" text-anchor="middle" fill="#000" font-weight="normal" font-style="normal" >Position of beam [mm]</text>
<text transform="translate(474.30,588.40) rotate(-90)" font-family="Liberation Sans" font-size="11" text-anchor="middle" fill="#000" font-style="normal">Beam diameter D4σ [μm]</text>
<clipPath id="hclip"><rect x="508.3" y="504.5" width="170.1" height="166.9"/></clipPath>
<g clip-path="url(#hclip)">
<polyline points="508.30,491.93 509.15,493.55 510.00,495.16 510.85,496.78 511.70,498.39 512.55,500.01 513.40,501.62 514.25,503.24 515.10,504.85 515.95,506.46 516.81,508.08 517.66,509.69 518.51,511.31 519.36,512.92 520.21,514.53 521.06,516.15 521.91,517.76 522.76,519.37 523.61,520.99 524.46,522.60 525.31,524.21 526.16,525.82 527.01,527.44 527.86,529.05 528.71,530.66 529.56,532.27 530.41,533.88 531.26,535.49 532.11,537.10 532.96,538.72 533.82,540.33 534.67,541.94 535.52,543.55 536.37,545.16 537.22,546.77 538.07,548.37 538.92,549.98 539.77,551.59 540.62,553.20 541.47,554.81 542.32,556.42 543.17,558.02 544.02,559.63 544.87,561.24 545.72,562.84 546.57,564.45 547.42,566.05 548.27,567.66 549.12,569.26 549.97,570.87 550.83,572.47 551.68,574.07 552.53,575.67 553.38,577.28 554.23,578.88 555.08,580.48 555.93,582.08 556.78,583.67 557.63,585.27 558.48,586.87 559.33,588.46 560.18,590.06 561.03,591.65 561.88,593.25 562.73,594.84 563.58,596.43 564.43,598.02 565.28,599.61 566.13,601.19 566.98,602.78 567.84,604.36 568.69,605.94 569.54,607.52 570.39,609.10 571.24,610.67 572.09,612.24 572.94,613.81 573.79,615.38 574.64,616.95 575.49,618.51 576.34,620.06 577.19,621.61 578.04,623.16 578.89,624.71 579.74,626.24 580.59,627.78 581.44,629.30 582.29,630.82 583.14,632.33 583.99,633.83 584.85,635.32 585.70,636.80 586.55,638.26 587.40,639.71 588.25,641.15 589.10,642.56 589.95,643.95 590.80,645.31 591.65,646.64 592.50,647.94 593.35,649.19 594.20,650.39 595.05,651.54 595.90,652.61 596.75,653.60 597.60,654.49 598.45,655.27 599.30,655.92 600.15,656.42 601.00,656.76 601.86,656.92 602.71,656.90 603.56,656.70 604.41,656.33 605.26,655.80 606.11,655.13 606.96,654.32 607.81,653.41 608.66,652.40 609.51,651.32 610.36,650.16 611.21,648.95 612.06,647.68 612.91,646.38 613.76,645.04 614.61,643.67 615.46,642.28 616.31,640.86 617.16,639.42 618.01,637.97 618.87,636.50 619.72,635.02 620.57,633.53 621.42,632.03 622.27,630.52 623.12,629.00 623.97,627.47 624.82,625.94 625.67,624.40 626.52,622.85 627.37,621.30 628.22,619.75 629.07,618.19 629.92,616.63 630.77,615.07 631.62,613.50 632.47,611.93 633.32,610.36 634.17,608.78 635.02,607.20 635.88,605.63 636.73,604.04 637.58,602.46 638.43,600.88 639.28,599.29 640.13,597.70 640.98,596.11 641.83,594.52 642.68,592.93 643.53,591.33 644.38,589.74 645.23,588.15 646.08,586.55 646.93,584.95 647.78,583.35 648.63,581.76 649.48,580.16 650.33,578.56 651.18,576.96 652.03,575.35 652.88,573.75 653.74,572.15 654.59,570.55 655.44,568.94 656.29,567.34 657.14,565.73 657.99,564.13 658.84,562.52 659.69,560.92 660.54,559.31 661.39,557.70 662.24,556.09 663.09,554.49 663.94,552.88 664.79,551.27 665.64,549.66 666.49,548.05 667.34,546.44 668.19,544.83 669.04,543.22 669.89,541.61 670.75,540.00 671.60,538.39 672.45,536.78 673.30,535.17 674.15,533.56 675.00,531.95 675.85,530.34 676.70,528.72 677.55,527.11 678.40,525.50" fill="none" stroke="#000" stroke-width="1.5" stroke-linejoin="round" />
<polyline points="508.30,534.33 509.15,536.03 510.00,537.72 510.85,539.41 511.70,541.11 512.55,542.80 513.40,544.49 514.25,546.19 515.10,547.88 515.95,549.57 516.81,551.26 517.66,552.95 518.51,554.64 519.36,556.33 520.21,558.02 521.06,559.71 521.91,561.40 522.76,563.09 523.61,564.78 524.46,566.47 525.31,568.16 526.16,569.84 527.01,571.53 527.86,573.21 528.71,574.90 529.56,576.58 530.41,578.27 531.26,579.95 532.11,581.63 532.96,583.31 533.82,584.99 534.67,586.67 535.52,588.35 536.37,590.03 537.22,591.70 538.07,593.38 538.92,595.05 539.77,596.72 540.62,598.39 541.47,600.06 542.32,601.73 543.17,603.40 544.02,605.06 544.87,606.72 545.72,608.38 546.57,610.04 547.42,611.69 548.27,613.34 549.12,614.99 549.97,616.64 550.83,618.28 551.68,619.92 552.53,621.55 553.38,623.18 554.23,624.80 555.08,626.42 555.93,628.03 556.78,629.63 557.63,631.22 558.48,632.81 559.33,634.38 560.18,635.94 561.03,637.49 561.88,639.02 562.73,640.54 563.58,642.03 564.43,643.50 565.28,644.95 566.13,646.36 566.98,647.73 567.84,649.05 568.69,650.32 569.54,651.53 570.39,652.65 571.24,653.69 572.09,654.61 572.94,655.41 573.79,656.06 574.64,656.54 575.49,656.84 576.34,656.94 577.19,656.84 578.04,656.54 578.89,656.06 579.74,655.41 580.59,654.61 581.44,653.69 582.29,652.65 583.14,651.53 583.99,650.32 584.85,649.05 585.70,647.73 586.55,646.36 587.40,644.95 588.25,643.50 589.10,642.03 589.95,640.54 590.80,639.02 591.65,637.49 592.50,635.94 593.35,634.38 594.20,632.81 595.05,631.22 595.90,629.63 596.75,628.03 597.60,626.42 598.45,624.80 599.30,623.18 600.15,621.55 601.00,619.92 601.86,618.28 602.71,616.64 603.56,614.99 604.41,613.34 605.26,611.69 606.11,610.04 606.96,608.38 607.81,606.72 608.66,605.06 609.51,603.40 610.36,601.73 611.21,600.06 612.06,598.39 612.91,596.72 613.76,595.05 614.61,593.38 615.46,591.70 616.31,590.03 617.16,588.35 618.01,586.67 618.87,584.99 619.72,583.31 620.57,581.63 621.42,579.95 622.27,578.27 623.12,576.58 623.97,574.90 624.82,573.21 625.67,571.53 626.52,569.84 627.37,568.16 628.22,566.47 629.07,564.78 629.92,563.09 630.77,561.40 631.62,559.71 632.47,558.02 633.32,556.33 634.17,554.64 635.02,552.95 635.88,551.26 636.73,549.57 637.58,547.88 638.43,546.19 639.28,544.49 640.13,542.80 640.98,541.11 641.83,539.41 642.68,537.72 643.53,536.03 644.38,534.33 645.23,532.64 646.08,530.94 646.93,529.25 647.78,527.55 648.63,525.86 649.48,524.16 650.33,522.47 651.18,520.77 652.03,519.08 652.88,517.38 653.74,515.68 654.59,513.99 655.44,512.29 656.29,510.59 657.14,508.90 657.99,507.20 658.84,505.50 659.69,503.81 660.54,502.11 661.39,500.41 662.24,498.71 663.09,497.01 663.94,495.32 664.79,493.62 665.64,491.92 666.49,490.22 667.34,488.52 668.19,486.83 669.04,485.13 669.89,483.43 670.75,481.73 671.60,480.03 672.45,478.33 673.30,476.63 674.15,474.93 675.00,473.23 675.85,471.53 676.70,469.84 677.55,468.14 678.40,466.44" fill="none" stroke="#c00000" stroke-width="1.5" stroke-linejoin="round" />
</g>
<circle cx="509.50" cy="538.10" r="2.6" fill="#c00000"/>
<circle cx="512.80" cy="554.90" r="2.6" fill="#c00000"/>
<circle cx="516.40" cy="558.50" r="2.6" fill="#c00000"/>
<circle cx="519.70" cy="558.10" r="2.6" fill="#c00000"/>
<circle cx="522.90" cy="571.20" r="2.6" fill="#c00000"/>
<circle cx="526.30" cy="578.20" r="2.6" fill="#c00000"/>
<circle cx="529.60" cy="587.20" r="2.6" fill="#c00000"/>
<circle cx="533.30" cy="591.20" r="2.6" fill="#c00000"/>
<circle cx="536.50" cy="595.80" r="2.6" fill="#c00000"/>
<circle cx="539.90" cy="599.30" r="2.6" fill="#c00000"/>
<circle cx="543.40" cy="606.70" r="2.6" fill="#c00000"/>
<circle cx="546.70" cy="614.30" r="2.6" fill="#c00000"/>
<circle cx="550.10" cy="622.60" r="2.6" fill="#c00000"/>
<circle cx="553.60" cy="630.40" r="2.6" fill="#c00000"/>
<circle cx="556.90" cy="636.20" r="2.6" fill="#c00000"/>
<circle cx="560.30" cy="641.30" r="2.6" fill="#c00000"/>
<circle cx="563.80" cy="645.00" r="2.6" fill="#c00000"/>
<circle cx="567.20" cy="649.80" r="2.6" fill="#c00000"/>
<circle cx="570.50" cy="653.00" r="2.6" fill="#c00000"/>
<circle cx="573.70" cy="655.90" r="2.6" fill="#c00000"/>
<circle cx="577.40" cy="655.90" r="2.6" fill="#c00000"/>
<circle cx="580.70" cy="654.20" r="2.6" fill="#c00000"/>
<circle cx="584.40" cy="648.60" r="2.6" fill="#c00000"/>
<circle cx="588.20" cy="640.10" r="2.6" fill="#c00000"/>
<circle cx="591.60" cy="639.10" r="2.6" fill="#c00000"/>
<circle cx="594.50" cy="629.60" r="2.6" fill="#c00000"/>
<circle cx="598.10" cy="619.10" r="2.6" fill="#c00000"/>
<circle cx="601.40" cy="607.40" r="2.6" fill="#c00000"/>
<circle cx="604.70" cy="593.80" r="2.6" fill="#c00000"/>
<circle cx="608.10" cy="593.50" r="2.6" fill="#c00000"/>
<circle cx="611.60" cy="589.30" r="2.6" fill="#c00000"/>
<circle cx="614.90" cy="583.30" r="2.6" fill="#c00000"/>
<circle cx="618.60" cy="578.50" r="2.6" fill="#c00000"/>
<circle cx="621.90" cy="574.30" r="2.6" fill="#c00000"/>
<circle cx="625.40" cy="567.30" r="2.6" fill="#c00000"/>
<circle cx="628.80" cy="558.10" r="2.6" fill="#c00000"/>
<circle cx="632.20" cy="552.70" r="2.6" fill="#c00000"/>
<circle cx="635.40" cy="546.40" r="2.6" fill="#c00000"/>
<circle cx="639.00" cy="539.10" r="2.6" fill="#c00000"/>
<circle cx="642.40" cy="530.00" r="2.6" fill="#c00000"/>
<circle cx="645.60" cy="518.10" r="2.6" fill="#c00000"/>
<circle cx="649.00" cy="511.80" r="2.6" fill="#c00000"/>
<circle cx="652.40" cy="505.20" r="2.6" fill="#c00000"/>
<circle cx="516.10" cy="506.70" r="2.6" fill="#000"/>
<circle cx="519.70" cy="515.10" r="2.6" fill="#000"/>
<circle cx="522.90" cy="524.90" r="2.6" fill="#000"/>
<circle cx="526.30" cy="531.50" r="2.6" fill="#000"/>
<circle cx="529.60" cy="540.00" r="2.6" fill="#000"/>
<circle cx="533.30" cy="545.40" r="2.6" fill="#000"/>
<circle cx="536.50" cy="550.50" r="2.6" fill="#000"/>
<circle cx="539.70" cy="554.10" r="2.6" fill="#000"/>
<circle cx="543.40" cy="561.40" r="2.6" fill="#000"/>
<circle cx="546.70" cy="569.50" r="2.6" fill="#000"/>
<circle cx="550.40" cy="573.80" r="2.6" fill="#000"/>
<circle cx="553.70" cy="580.40" r="2.6" fill="#000"/>
<circle cx="557.20" cy="586.20" r="2.6" fill="#000"/>
<circle cx="560.60" cy="589.90" r="2.6" fill="#000"/>
<circle cx="563.80" cy="595.30" r="2.6" fill="#000"/>
<circle cx="567.20" cy="602.20" r="2.6" fill="#000"/>
<circle cx="570.80" cy="607.70" r="2.6" fill="#000"/>
<circle cx="574.20" cy="614.70" r="2.6" fill="#000"/>
<circle cx="577.40" cy="620.60" r="2.6" fill="#000"/>
<circle cx="580.70" cy="626.70" r="2.6" fill="#000"/>
<circle cx="584.20" cy="632.80" r="2.6" fill="#000"/>
<circle cx="587.60" cy="634.00" r="2.6" fill="#000"/>
<circle cx="591.40" cy="643.70" r="2.6" fill="#000"/>
<circle cx="594.50" cy="649.10" r="2.6" fill="#000"/>
<circle cx="598.10" cy="651.90" r="2.6" fill="#000"/>
<circle cx="601.40" cy="653.00" r="2.6" fill="#000"/>
<circle cx="604.70" cy="657.40" r="2.6" fill="#000"/>
<circle cx="608.10" cy="651.80" r="2.6" fill="#000"/>
<circle cx="611.60" cy="648.30" r="2.6" fill="#000"/>
<circle cx="614.90" cy="641.60" r="2.6" fill="#000"/>
<circle cx="618.60" cy="636.20" r="2.6" fill="#000"/>
<circle cx="621.90" cy="630.80" r="2.6" fill="#000"/>
<circle cx="625.10" cy="621.20" r="2.6" fill="#000"/>
<circle cx="628.50" cy="622.60" r="2.6" fill="#000"/>
<circle cx="632.00" cy="613.60" r="2.6" fill="#000"/>
<circle cx="635.40" cy="608.90" r="2.6" fill="#000"/>
<circle cx="639.00" cy="600.40" r="2.6" fill="#000"/>
<circle cx="642.30" cy="591.50" r="2.6" fill="#000"/>
<circle cx="645.70" cy="584.30" r="2.6" fill="#000"/>
<circle cx="649.10" cy="579.40" r="2.6" fill="#000"/>
<circle cx="652.40" cy="575.30" r="2.6" fill="#000"/>
<circle cx="655.80" cy="568.40" r="2.6" fill="#000"/>
<circle cx="659.50" cy="562.20" r="2.6" fill="#000"/>
<circle cx="662.80" cy="552.70" r="2.6" fill="#000"/>
<circle cx="666.30" cy="549.70" r="2.6" fill="#000"/>
<circle cx="669.40" cy="539.20" r="2.6" fill="#000"/>
<circle cx="673.00" cy="534.40" r="2.6" fill="#000"/>
<circle cx="676.50" cy="523.50" r="2.6" fill="#000"/>
<text x="537.30" y="526.50" font-family="Liberation Serif" font-size="13" font-style="italic" fill="#000" font-weight="normal" textLength="10.60" lengthAdjust="spacingAndGlyphs">M</text>
<text x="548.30" y="521.10" font-family="Liberation Serif" font-size="8.5" font-style="normal" fill="#000" font-weight="normal" textLength="4.20" lengthAdjust="spacingAndGlyphs">2</text>
<text x="547.20" y="528.20" font-family="Liberation Serif" font-size="9" font-style="italic" fill="#000" font-weight="normal" textLength="4.30" lengthAdjust="spacingAndGlyphs">s</text>
<text x="557.90" y="525.90" font-family="Liberation Serif" font-size="13" font-style="normal" fill="#000" font-weight="normal" textLength="7.80" lengthAdjust="spacingAndGlyphs">=</text>
<text x="570.50" y="526.50" font-family="Liberation Serif" font-size="13" font-style="normal" fill="#000" font-weight="normal" textLength="21.30" lengthAdjust="spacingAndGlyphs">1.15</text>
<text x="564.00" y="564.40" font-family="Liberation Serif" font-size="13" font-style="italic" fill="#000" font-weight="normal" textLength="10.60" lengthAdjust="spacingAndGlyphs">M</text>
<text x="575.00" y="559.00" font-family="Liberation Serif" font-size="8.5" font-style="normal" fill="#000" font-weight="normal" textLength="4.20" lengthAdjust="spacingAndGlyphs">2</text>
<text x="573.90" y="566.10" font-family="Liberation Serif" font-size="9" font-style="italic" fill="#000" font-weight="normal" textLength="4.00" lengthAdjust="spacingAndGlyphs">f</text>
<text x="584.60" y="563.80" font-family="Liberation Serif" font-size="13" font-style="normal" fill="#000" font-weight="normal" textLength="7.80" lengthAdjust="spacingAndGlyphs">=</text>
<text x="597.20" y="564.40" font-family="Liberation Serif" font-size="13" font-style="normal" fill="#000" font-weight="normal" textLength="14.90" lengthAdjust="spacingAndGlyphs">1.3</text>
<path d="M569.5,531.7 C566,535 560,536 547,538.2" fill="none" stroke="#1f3864" stroke-width="1.6"/>
<path d="M548,535.8 L542.8,538.5 L548.4,540.9 z" fill="#1f3864"/>
<path d="M588.1,551.4 C590,546 593,543.2 600,543 L622,543" fill="none" stroke="#1f3864" stroke-width="1.6"/>
<path d="M621.2,540.4 L626.3,543 L621.2,545.6 z" fill="#1f3864"/>
</svg>
</body></html>
